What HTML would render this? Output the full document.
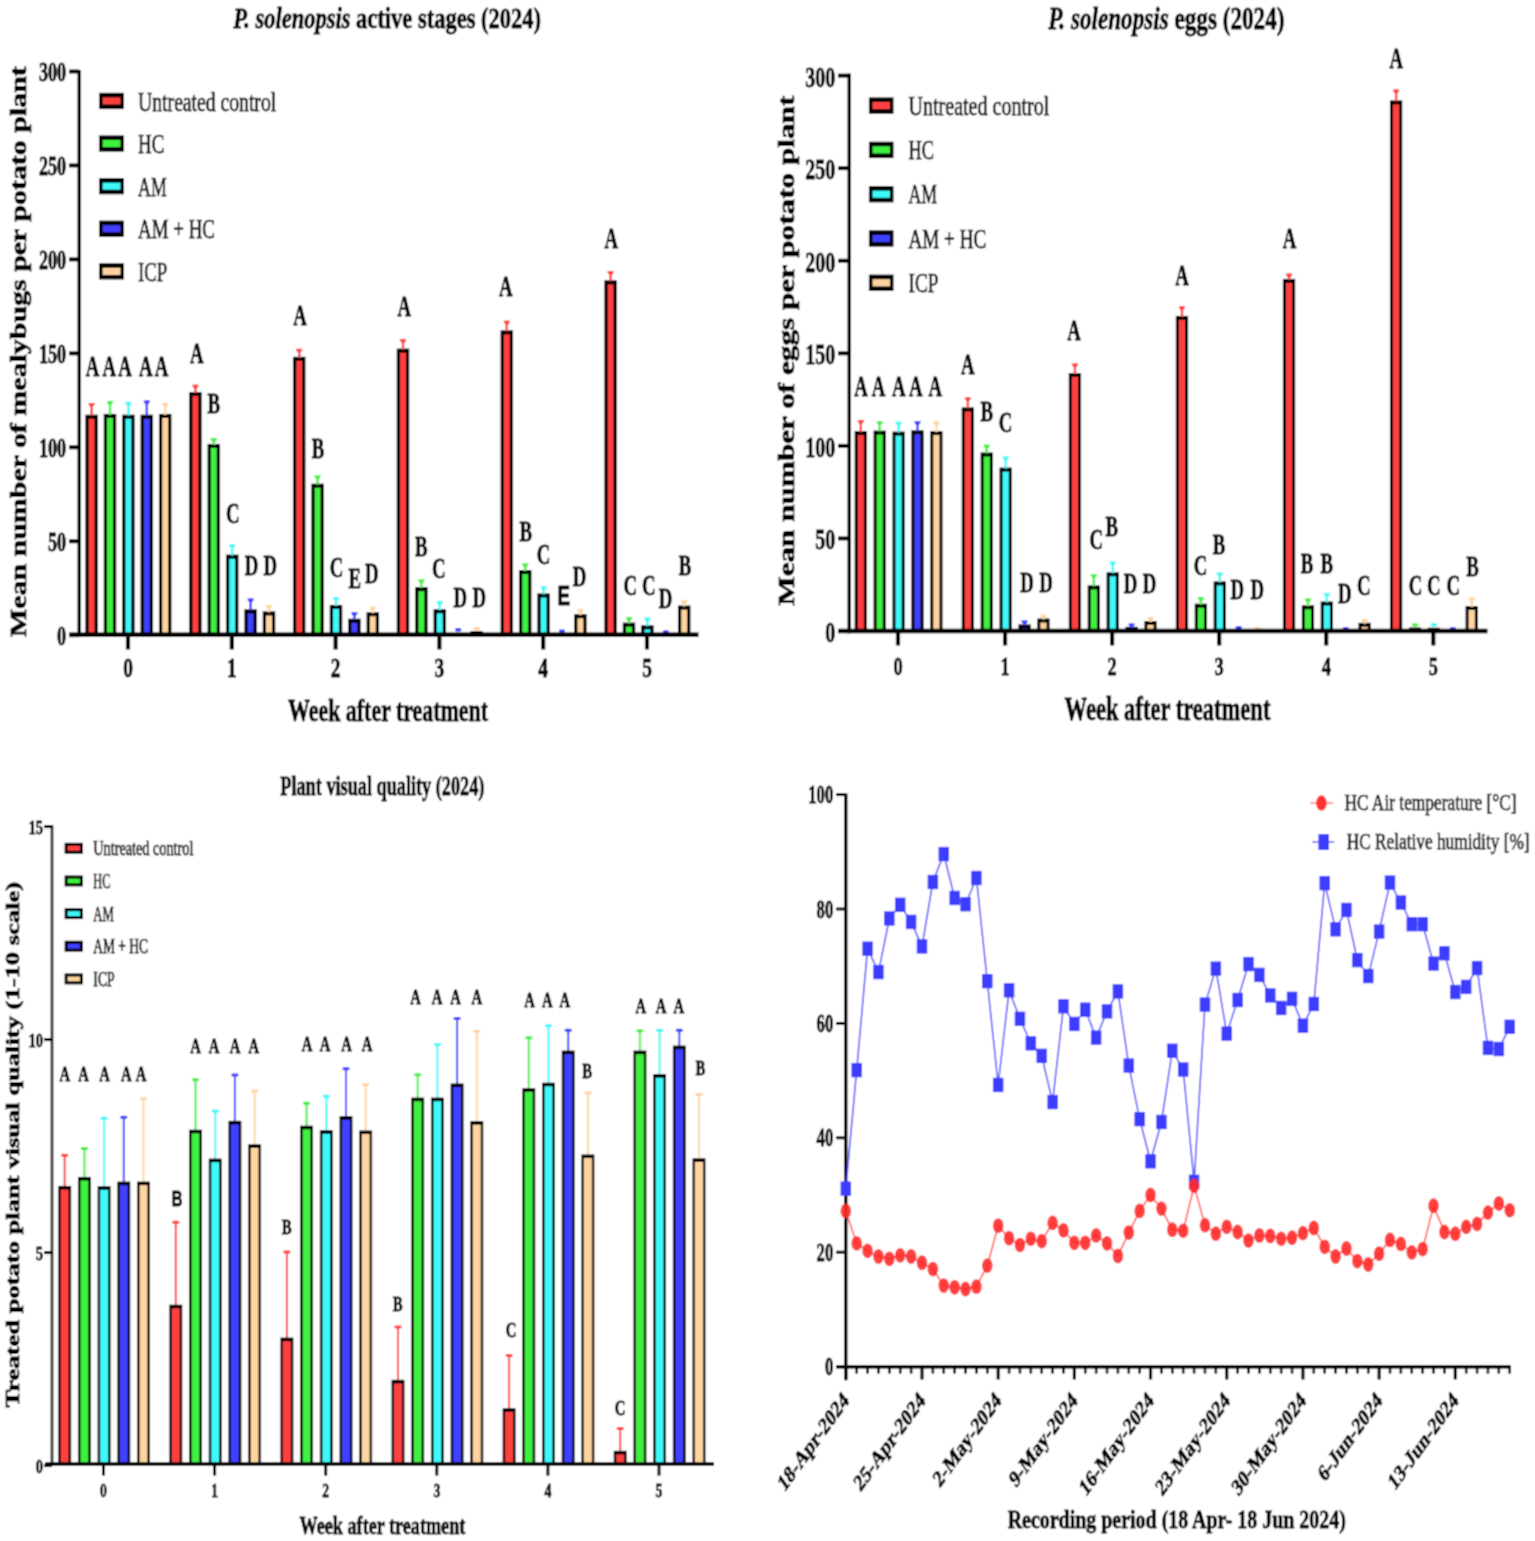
<!DOCTYPE html>
<html><head><meta charset="utf-8"><title>Figure</title>
<style>html,body{margin:0;padding:0;background:#fff;}svg{display:block;}text[font-weight="bold"]{stroke:#000;stroke-width:0.8px;}text[font-weight="normal"]{stroke:#111;stroke-width:0.75px;}</style></head>
<body><svg width="1535" height="1541" viewBox="0 0 1535 1541">
<defs><filter id="soft" x="0" y="0" width="1" height="1" filterUnits="objectBoundingBox"><feConvolveMatrix order="3" kernelMatrix="1 2 1 2 4 2 1 2 1" divisor="16" edgeMode="duplicate"/></filter></defs>
<g filter="url(#soft)">
<rect width="1535" height="1541" fill="#fff"/>
<rect x="85.35" y="414.7" width="12.5" height="220" fill="#000"/>
<rect x="88.65" y="418.8" width="5.9" height="215.9" fill="#FF4040"/>
<rect x="90.4" y="403" width="2.4" height="12.7" fill="#FF4040"/>
<path d="M88.3 403L94.9 403Q94.9 405.09 92.8 406.8L90.4 406.8Q88.3 405.09 88.3 403Z" fill="#FF4040"/>
<rect x="103.75" y="413.9" width="12.5" height="220.8" fill="#000"/>
<rect x="107.05" y="418" width="5.9" height="216.7" fill="#40F040"/>
<rect x="108.8" y="400.9" width="2.4" height="14" fill="#40F040"/>
<path d="M106.7 400.9L113.3 400.9Q113.3 402.99 111.2 404.7L108.8 404.7Q106.7 402.99 106.7 400.9Z" fill="#40F040"/>
<rect x="122.15" y="414.7" width="12.5" height="220" fill="#000"/>
<rect x="125.45" y="418.8" width="5.9" height="215.9" fill="#40F8F8"/>
<rect x="127.2" y="401.7" width="2.4" height="14" fill="#40F8F8"/>
<path d="M125.1 401.7L131.7 401.7Q131.7 403.79 129.6 405.5L127.2 405.5Q125.1 403.79 125.1 401.7Z" fill="#40F8F8"/>
<rect x="140.55" y="414.7" width="12.5" height="220" fill="#000"/>
<rect x="143.85" y="418.8" width="5.9" height="215.9" fill="#4040FF"/>
<rect x="145.6" y="400.4" width="2.4" height="15.3" fill="#4040FF"/>
<path d="M143.5 400.4L150.1 400.4Q150.1 402.49 148 404.2L145.6 404.2Q143.5 402.49 143.5 400.4Z" fill="#4040FF"/>
<rect x="158.95" y="413.9" width="12.5" height="220.8" fill="#000"/>
<rect x="162.25" y="418" width="5.9" height="216.7" fill="#FFD4A0"/>
<rect x="164" y="403" width="2.4" height="11.9" fill="#FFD4A0"/>
<path d="M161.9 403L168.5 403Q168.5 405.09 166.4 406.8L164 406.8Q161.9 405.09 161.9 403Z" fill="#FFD4A0"/>
<rect x="189.15" y="392" width="12.5" height="242.7" fill="#000"/>
<rect x="192.45" y="396.1" width="5.9" height="238.6" fill="#FF4040"/>
<rect x="194.2" y="384.7" width="2.4" height="8.3" fill="#FF4040"/>
<path d="M192.1 384.7L198.7 384.7Q198.7 386.79 196.6 388.5L194.2 388.5Q192.1 386.79 192.1 384.7Z" fill="#FF4040"/>
<rect x="207.55" y="443.9" width="12.5" height="190.8" fill="#000"/>
<rect x="210.85" y="448" width="5.9" height="186.7" fill="#40F040"/>
<rect x="212.6" y="438.1" width="2.4" height="6.8" fill="#40F040"/>
<path d="M210.5 438.1L217.1 438.1Q217.1 440.19 215 441.9L212.6 441.9Q210.5 440.19 210.5 438.1Z" fill="#40F040"/>
<rect x="225.95" y="554.6" width="12.5" height="80.1" fill="#000"/>
<rect x="229.25" y="558.7" width="5.9" height="76" fill="#40F8F8"/>
<rect x="231" y="544.2" width="2.4" height="11.4" fill="#40F8F8"/>
<path d="M228.9 544.2L235.5 544.2Q235.5 546.29 233.4 548L231 548Q228.9 546.29 228.9 544.2Z" fill="#40F8F8"/>
<rect x="244.35" y="609.3" width="12.5" height="25.4" fill="#000"/>
<rect x="247.65" y="613.4" width="5.9" height="21.3" fill="#4040FF"/>
<rect x="249.4" y="598.4" width="2.4" height="11.9" fill="#4040FF"/>
<path d="M247.3 598.4L253.9 598.4Q253.9 600.49 251.8 602.2L249.4 602.2Q247.3 600.49 247.3 598.4Z" fill="#4040FF"/>
<rect x="262.75" y="611.4" width="12.5" height="23.3" fill="#000"/>
<rect x="266.05" y="615.5" width="5.9" height="19.2" fill="#FFD4A0"/>
<rect x="267.8" y="604.9" width="2.4" height="7.5" fill="#FFD4A0"/>
<path d="M265.7 604.9L272.3 604.9Q272.3 606.99 270.2 608.7L267.8 608.7Q265.7 606.99 265.7 604.9Z" fill="#FFD4A0"/>
<rect x="292.95" y="356.8" width="12.5" height="277.9" fill="#000"/>
<rect x="296.25" y="360.9" width="5.9" height="273.8" fill="#FF4040"/>
<rect x="298" y="348.8" width="2.4" height="9" fill="#FF4040"/>
<path d="M295.9 348.8L302.5 348.8Q302.5 350.89 300.4 352.6L298 352.6Q295.9 350.89 295.9 348.8Z" fill="#FF4040"/>
<rect x="311.35" y="483.7" width="12.5" height="151" fill="#000"/>
<rect x="314.65" y="487.8" width="5.9" height="146.9" fill="#40F040"/>
<rect x="316.4" y="475.4" width="2.4" height="9.3" fill="#40F040"/>
<path d="M314.3 475.4L320.9 475.4Q320.9 477.49 318.8 479.2L316.4 479.2Q314.3 477.49 314.3 475.4Z" fill="#40F040"/>
<rect x="329.75" y="604.9" width="12.5" height="29.8" fill="#000"/>
<rect x="333.05" y="609" width="5.9" height="25.7" fill="#40F8F8"/>
<rect x="334.8" y="597.1" width="2.4" height="8.8" fill="#40F8F8"/>
<path d="M332.7 597.1L339.3 597.1Q339.3 599.19 337.2 600.9L334.8 600.9Q332.7 599.19 332.7 597.1Z" fill="#40F8F8"/>
<rect x="348.15" y="618.7" width="12.5" height="16" fill="#000"/>
<rect x="351.45" y="622.8" width="5.9" height="11.9" fill="#4040FF"/>
<rect x="353.2" y="612.2" width="2.4" height="7.5" fill="#4040FF"/>
<path d="M351.1 612.2L357.7 612.2Q357.7 614.29 355.6 616L353.2 616Q351.1 614.29 351.1 612.2Z" fill="#4040FF"/>
<rect x="366.55" y="612.2" width="12.5" height="22.5" fill="#000"/>
<rect x="369.85" y="616.3" width="5.9" height="18.4" fill="#FFD4A0"/>
<rect x="371.6" y="606.7" width="2.4" height="6.5" fill="#FFD4A0"/>
<path d="M369.5 606.7L376.1 606.7Q376.1 608.79 374 610.5L371.6 610.5Q369.5 608.79 369.5 606.7Z" fill="#FFD4A0"/>
<rect x="396.75" y="348.6" width="12.5" height="286.1" fill="#000"/>
<rect x="400.05" y="352.7" width="5.9" height="282" fill="#FF4040"/>
<rect x="401.8" y="338.9" width="2.4" height="10.7" fill="#FF4040"/>
<path d="M399.7 338.9L406.3 338.9Q406.3 340.99 404.2 342.7L401.8 342.7Q399.7 340.99 399.7 338.9Z" fill="#FF4040"/>
<rect x="415.15" y="587.1" width="12.5" height="47.6" fill="#000"/>
<rect x="418.45" y="591.2" width="5.9" height="43.5" fill="#40F040"/>
<rect x="420.2" y="579.4" width="2.4" height="8.7" fill="#40F040"/>
<path d="M418.1 579.4L424.7 579.4Q424.7 581.49 422.6 583.2L420.2 583.2Q418.1 581.49 418.1 579.4Z" fill="#40F040"/>
<rect x="433.55" y="609.2" width="12.5" height="25.5" fill="#000"/>
<rect x="436.85" y="613.3" width="5.9" height="21.4" fill="#40F8F8"/>
<rect x="438.6" y="600.9" width="2.4" height="9.3" fill="#40F8F8"/>
<path d="M436.5 600.9L443.1 600.9Q443.1 602.99 441 604.7L438.6 604.7Q436.5 602.99 436.5 600.9Z" fill="#40F8F8"/>
<rect x="455.2" y="628" width="6" height="3.4" rx="1.2" fill="#4040FF"/>
<rect x="470.4" y="631" width="12.4" height="3.7" fill="#000"/>
<rect x="473.6" y="627" width="6" height="3.4" rx="1.2" fill="#FFD4A0"/>
<rect x="500.55" y="330.3" width="12.5" height="304.4" fill="#000"/>
<rect x="503.85" y="334.4" width="5.9" height="300.3" fill="#FF4040"/>
<rect x="505.6" y="320.7" width="2.4" height="10.6" fill="#FF4040"/>
<path d="M503.5 320.7L510.1 320.7Q510.1 322.79 508 324.5L505.6 324.5Q503.5 322.79 503.5 320.7Z" fill="#FF4040"/>
<rect x="518.95" y="570" width="12.5" height="64.7" fill="#000"/>
<rect x="522.25" y="574.1" width="5.9" height="60.6" fill="#40F040"/>
<rect x="524" y="563.4" width="2.4" height="7.6" fill="#40F040"/>
<path d="M521.9 563.4L528.5 563.4Q528.5 565.49 526.4 567.2L524 567.2Q521.9 565.49 521.9 563.4Z" fill="#40F040"/>
<rect x="537.35" y="593.4" width="12.5" height="41.3" fill="#000"/>
<rect x="540.65" y="597.5" width="5.9" height="37.2" fill="#40F8F8"/>
<rect x="542.4" y="586.3" width="2.4" height="8.1" fill="#40F8F8"/>
<path d="M540.3 586.3L546.9 586.3Q546.9 588.39 544.8 590.1L542.4 590.1Q540.3 588.39 540.3 586.3Z" fill="#40F8F8"/>
<rect x="559" y="629.4" width="6" height="3.4" rx="1.2" fill="#4040FF"/>
<rect x="574.15" y="614.2" width="12.5" height="20.5" fill="#000"/>
<rect x="577.45" y="618.3" width="5.9" height="16.4" fill="#FFD4A0"/>
<rect x="579.2" y="609.2" width="2.4" height="6" fill="#FFD4A0"/>
<path d="M577.1 609.2L583.7 609.2Q583.7 611.29 581.6 613L579.2 613Q577.1 611.29 577.1 609.2Z" fill="#FFD4A0"/>
<rect x="604.35" y="280.3" width="12.5" height="354.4" fill="#000"/>
<rect x="607.65" y="284.4" width="5.9" height="350.3" fill="#FF4040"/>
<rect x="609.4" y="270.9" width="2.4" height="10.4" fill="#FF4040"/>
<path d="M607.3 270.9L613.9 270.9Q613.9 272.99 611.8 274.7L609.4 274.7Q607.3 272.99 607.3 270.9Z" fill="#FF4040"/>
<rect x="622.75" y="622.6" width="12.5" height="12.1" fill="#000"/>
<rect x="626.05" y="626.7" width="5.9" height="8" fill="#40F040"/>
<rect x="627.8" y="616.9" width="2.4" height="6.7" fill="#40F040"/>
<path d="M625.7 616.9L632.3 616.9Q632.3 618.99 630.2 620.7L627.8 620.7Q625.7 618.99 625.7 616.9Z" fill="#40F040"/>
<rect x="641.15" y="625.3" width="12.5" height="9.4" fill="#000"/>
<rect x="644.45" y="629.4" width="5.9" height="5.3" fill="#40F8F8"/>
<rect x="646.2" y="617.6" width="2.4" height="8.7" fill="#40F8F8"/>
<path d="M644.1 617.6L650.7 617.6Q650.7 619.69 648.6 621.4L646.2 621.4Q644.1 619.69 644.1 617.6Z" fill="#40F8F8"/>
<rect x="662.8" y="630.2" width="6" height="3.4" rx="1.2" fill="#4040FF"/>
<rect x="677.95" y="605.5" width="12.5" height="29.2" fill="#000"/>
<rect x="681.25" y="609.6" width="5.9" height="25.1" fill="#FFD4A0"/>
<rect x="683" y="600.3" width="2.4" height="6.2" fill="#FFD4A0"/>
<path d="M680.9 600.3L687.5 600.3Q687.5 602.39 685.4 604.1L683 604.1Q680.9 602.39 680.9 600.3Z" fill="#FFD4A0"/>
<rect x="77.5" y="70" width="3.4" height="567" fill="#000"/>
<rect x="69" y="632.4" width="629.5" height="4.6" fill="#000"/>
<rect x="69" y="633.2" width="10.2" height="4" fill="#000"/>
<rect x="69" y="539.25" width="10.2" height="4" fill="#000"/>
<rect x="69" y="445.3" width="10.2" height="4" fill="#000"/>
<rect x="69" y="351.35" width="10.2" height="4" fill="#000"/>
<rect x="69" y="257.4" width="10.2" height="4" fill="#000"/>
<rect x="69" y="163.45" width="10.2" height="4" fill="#000"/>
<rect x="69" y="69.5" width="10.2" height="4" fill="#000"/>
<rect x="125.9" y="634.7" width="4.2" height="14.8" fill="#000"/>
<rect x="229.7" y="634.7" width="4.2" height="14.8" fill="#000"/>
<rect x="333.5" y="634.7" width="4.2" height="14.8" fill="#000"/>
<rect x="437.3" y="634.7" width="4.2" height="14.8" fill="#000"/>
<rect x="541.1" y="634.7" width="4.2" height="14.8" fill="#000"/>
<rect x="644.9" y="634.7" width="4.2" height="14.8" fill="#000"/>
<text x="57.1" y="644.8" font-family="'Liberation Serif','Times New Roman',serif" font-size="27.5" font-weight="bold" font-style="normal" fill="#000" textLength="9.1" lengthAdjust="spacingAndGlyphs">0</text>
<text x="48" y="550.85" font-family="'Liberation Serif','Times New Roman',serif" font-size="27.5" font-weight="bold" font-style="normal" fill="#000" textLength="18.2" lengthAdjust="spacingAndGlyphs">50</text>
<text x="38.9" y="456.9" font-family="'Liberation Serif','Times New Roman',serif" font-size="27.5" font-weight="bold" font-style="normal" fill="#000" textLength="27.3" lengthAdjust="spacingAndGlyphs">100</text>
<text x="38.9" y="362.95" font-family="'Liberation Serif','Times New Roman',serif" font-size="27.5" font-weight="bold" font-style="normal" fill="#000" textLength="27.3" lengthAdjust="spacingAndGlyphs">150</text>
<text x="38.9" y="269" font-family="'Liberation Serif','Times New Roman',serif" font-size="27.5" font-weight="bold" font-style="normal" fill="#000" textLength="27.3" lengthAdjust="spacingAndGlyphs">200</text>
<text x="38.9" y="175.05" font-family="'Liberation Serif','Times New Roman',serif" font-size="27.5" font-weight="bold" font-style="normal" fill="#000" textLength="27.3" lengthAdjust="spacingAndGlyphs">250</text>
<text x="38.9" y="81.1" font-family="'Liberation Serif','Times New Roman',serif" font-size="27.5" font-weight="bold" font-style="normal" fill="#000" textLength="27.3" lengthAdjust="spacingAndGlyphs">300</text>
<text transform="translate(128 677) scale(0.72 1)" text-anchor="middle" font-family="'Liberation Serif','Times New Roman',serif" font-size="27" font-weight="bold" font-style="normal" fill="#000">0</text>
<text transform="translate(231.8 677) scale(0.72 1)" text-anchor="middle" font-family="'Liberation Serif','Times New Roman',serif" font-size="27" font-weight="bold" font-style="normal" fill="#000">1</text>
<text transform="translate(335.6 677) scale(0.72 1)" text-anchor="middle" font-family="'Liberation Serif','Times New Roman',serif" font-size="27" font-weight="bold" font-style="normal" fill="#000">2</text>
<text transform="translate(439.4 677) scale(0.72 1)" text-anchor="middle" font-family="'Liberation Serif','Times New Roman',serif" font-size="27" font-weight="bold" font-style="normal" fill="#000">3</text>
<text transform="translate(543.2 677) scale(0.72 1)" text-anchor="middle" font-family="'Liberation Serif','Times New Roman',serif" font-size="27" font-weight="bold" font-style="normal" fill="#000">4</text>
<text transform="translate(647 677) scale(0.72 1)" text-anchor="middle" font-family="'Liberation Serif','Times New Roman',serif" font-size="27" font-weight="bold" font-style="normal" fill="#000">5</text>
<rect x="99" y="92.8" width="24.9" height="16.3" fill="#000"/>
<rect x="102.6" y="97.4" width="17.9" height="7.1" fill="#FF4040"/>
<text x="138.1" y="110.5" font-family="'Liberation Serif','Times New Roman',serif" font-size="27.5" font-weight="normal" font-style="normal" fill="#000" textLength="138.1" lengthAdjust="spacingAndGlyphs">Untreated control</text>
<rect x="99" y="135.4" width="24.9" height="16.3" fill="#000"/>
<rect x="102.6" y="140" width="17.9" height="7.1" fill="#40F040"/>
<text x="138.1" y="153.1" font-family="'Liberation Serif','Times New Roman',serif" font-size="27.5" font-weight="normal" font-style="normal" fill="#000" textLength="26.1" lengthAdjust="spacingAndGlyphs">HC</text>
<rect x="99" y="178" width="24.9" height="16.3" fill="#000"/>
<rect x="102.6" y="182.6" width="17.9" height="7.1" fill="#40F8F8"/>
<text x="138.1" y="195.7" font-family="'Liberation Serif','Times New Roman',serif" font-size="27.5" font-weight="normal" font-style="normal" fill="#000" textLength="28.7" lengthAdjust="spacingAndGlyphs">AM</text>
<rect x="99" y="220.6" width="24.9" height="16.3" fill="#000"/>
<rect x="102.6" y="225.2" width="17.9" height="7.1" fill="#4040FF"/>
<text x="138.1" y="238.3" font-family="'Liberation Serif','Times New Roman',serif" font-size="27.5" font-weight="normal" font-style="normal" fill="#000" textLength="76.9" lengthAdjust="spacingAndGlyphs">AM + HC</text>
<rect x="99" y="263.2" width="24.9" height="16.3" fill="#000"/>
<rect x="102.6" y="267.8" width="17.9" height="7.1" fill="#FFD4A0"/>
<text x="138.1" y="280.9" font-family="'Liberation Serif','Times New Roman',serif" font-size="27.5" font-weight="normal" font-style="normal" fill="#000" textLength="29.2" lengthAdjust="spacingAndGlyphs">ICP</text>
<text x="233.3" y="27.7" font-family="'Liberation Serif','Times New Roman',serif" font-size="30" font-weight="bold" font-style="normal" fill="#000" textLength="307.7" lengthAdjust="spacingAndGlyphs"><tspan font-style="italic">P. solenopsis</tspan> active stages (2024)</text>
<text x="288" y="721" font-family="'Liberation Serif','Times New Roman',serif" font-size="31" font-weight="bold" font-style="normal" fill="#000" textLength="200.1" lengthAdjust="spacingAndGlyphs">Week after treatment</text>
<text transform="translate(26.2 637.1) rotate(-90) scale(1 0.88)" font-family="'Liberation Serif','Times New Roman',serif" font-size="27" font-weight="bold" textLength="570.9" lengthAdjust="spacingAndGlyphs">Mean number of mealybugs per potato plant</text>
<text transform="translate(92.5 375.6) scale(0.66 1)" text-anchor="middle" font-family="'Liberation Serif','Times New Roman',serif" font-size="28.5" font-weight="bold" font-style="normal" fill="#000">A</text>
<text transform="translate(109.4 375.6) scale(0.66 1)" text-anchor="middle" font-family="'Liberation Serif','Times New Roman',serif" font-size="28.5" font-weight="bold" font-style="normal" fill="#000">A</text>
<text transform="translate(125.1 375.6) scale(0.66 1)" text-anchor="middle" font-family="'Liberation Serif','Times New Roman',serif" font-size="28.5" font-weight="bold" font-style="normal" fill="#000">A</text>
<text transform="translate(145.9 375.6) scale(0.66 1)" text-anchor="middle" font-family="'Liberation Serif','Times New Roman',serif" font-size="28.5" font-weight="bold" font-style="normal" fill="#000">A</text>
<text transform="translate(161.6 375.6) scale(0.66 1)" text-anchor="middle" font-family="'Liberation Serif','Times New Roman',serif" font-size="28.5" font-weight="bold" font-style="normal" fill="#000">A</text>
<text transform="translate(196.7 363.4) scale(0.66 1)" text-anchor="middle" font-family="'Liberation Serif','Times New Roman',serif" font-size="28.5" font-weight="bold" font-style="normal" fill="#000">A</text>
<text transform="translate(213.7 413.4) scale(0.66 1)" text-anchor="middle" font-family="'Liberation Serif','Times New Roman',serif" font-size="28.5" font-weight="bold" font-style="normal" fill="#000">B</text>
<text transform="translate(232.7 522.8) scale(0.66 1)" text-anchor="middle" font-family="'Liberation Serif','Times New Roman',serif" font-size="28.5" font-weight="bold" font-style="normal" fill="#000">C</text>
<text transform="translate(251.5 575) scale(0.66 1)" text-anchor="middle" font-family="'Liberation Serif','Times New Roman',serif" font-size="28.5" font-weight="bold" font-style="normal" fill="#000">D</text>
<text transform="translate(270.2 575) scale(0.66 1)" text-anchor="middle" font-family="'Liberation Serif','Times New Roman',serif" font-size="28.5" font-weight="bold" font-style="normal" fill="#000">D</text>
<text transform="translate(300 325) scale(0.66 1)" text-anchor="middle" font-family="'Liberation Serif','Times New Roman',serif" font-size="28.5" font-weight="bold" font-style="normal" fill="#000">A</text>
<text transform="translate(317.9 457.7) scale(0.66 1)" text-anchor="middle" font-family="'Liberation Serif','Times New Roman',serif" font-size="28.5" font-weight="bold" font-style="normal" fill="#000">B</text>
<text transform="translate(336.5 576.6) scale(0.66 1)" text-anchor="middle" font-family="'Liberation Serif','Times New Roman',serif" font-size="28.5" font-weight="bold" font-style="normal" fill="#000">C</text>
<text transform="translate(354.7 588.3) scale(0.66 1)" text-anchor="middle" font-family="'Liberation Serif','Times New Roman',serif" font-size="28.5" font-weight="bold" font-style="normal" fill="#000">E</text>
<text transform="translate(371.7 583.1) scale(0.66 1)" text-anchor="middle" font-family="'Liberation Serif','Times New Roman',serif" font-size="28.5" font-weight="bold" font-style="normal" fill="#000">D</text>
<text transform="translate(404.2 316) scale(0.66 1)" text-anchor="middle" font-family="'Liberation Serif','Times New Roman',serif" font-size="28.5" font-weight="bold" font-style="normal" fill="#000">A</text>
<text transform="translate(421.2 555.7) scale(0.66 1)" text-anchor="middle" font-family="'Liberation Serif','Times New Roman',serif" font-size="28.5" font-weight="bold" font-style="normal" fill="#000">B</text>
<text transform="translate(438.9 577.9) scale(0.66 1)" text-anchor="middle" font-family="'Liberation Serif','Times New Roman',serif" font-size="28.5" font-weight="bold" font-style="normal" fill="#000">C</text>
<text transform="translate(460.3 606.5) scale(0.66 1)" text-anchor="middle" font-family="'Liberation Serif','Times New Roman',serif" font-size="28.5" font-weight="bold" font-style="normal" fill="#000">D</text>
<text transform="translate(479.3 606.5) scale(0.66 1)" text-anchor="middle" font-family="'Liberation Serif','Times New Roman',serif" font-size="28.5" font-weight="bold" font-style="normal" fill="#000">D</text>
<text transform="translate(505.9 296.4) scale(0.66 1)" text-anchor="middle" font-family="'Liberation Serif','Times New Roman',serif" font-size="28.5" font-weight="bold" font-style="normal" fill="#000">A</text>
<text transform="translate(525.7 541.4) scale(0.66 1)" text-anchor="middle" font-family="'Liberation Serif','Times New Roman',serif" font-size="28.5" font-weight="bold" font-style="normal" fill="#000">B</text>
<text transform="translate(543.6 563.6) scale(0.66 1)" text-anchor="middle" font-family="'Liberation Serif','Times New Roman',serif" font-size="28.5" font-weight="bold" font-style="normal" fill="#000">C</text>
<text transform="translate(579.6 585.7) scale(0.66 1)" text-anchor="middle" font-family="'Liberation Serif','Times New Roman',serif" font-size="28.5" font-weight="bold" font-style="normal" fill="#000">D</text>
<text transform="translate(611.4 248.2) scale(0.66 1)" text-anchor="middle" font-family="'Liberation Serif','Times New Roman',serif" font-size="28.5" font-weight="bold" font-style="normal" fill="#000">A</text>
<text transform="translate(630.4 594.8) scale(0.66 1)" text-anchor="middle" font-family="'Liberation Serif','Times New Roman',serif" font-size="28.5" font-weight="bold" font-style="normal" fill="#000">C</text>
<text transform="translate(648.7 594.8) scale(0.66 1)" text-anchor="middle" font-family="'Liberation Serif','Times New Roman',serif" font-size="28.5" font-weight="bold" font-style="normal" fill="#000">C</text>
<text transform="translate(665.6 607.8) scale(0.66 1)" text-anchor="middle" font-family="'Liberation Serif','Times New Roman',serif" font-size="28.5" font-weight="bold" font-style="normal" fill="#000">D</text>
<text transform="translate(685.1 575.3) scale(0.66 1)" text-anchor="middle" font-family="'Liberation Serif','Times New Roman',serif" font-size="28.5" font-weight="bold" font-style="normal" fill="#000">B</text>
<text transform="translate(563.7 605) scale(0.7 1)" text-anchor="middle" font-family="'Liberation Sans',Arial,sans-serif" font-size="27" font-weight="bold" font-style="normal" fill="#000">E</text>
<rect x="854.65" y="431.1" width="12.3" height="199.9" fill="#000"/>
<rect x="857.7" y="435.1" width="6.2" height="195.9" fill="#FF4040"/>
<rect x="859.6" y="419.9" width="2.4" height="12.2" fill="#FF4040"/>
<path d="M857.5 419.9L864.1 419.9Q864.1 421.99 862 423.7L859.6 423.7Q857.5 421.99 857.5 419.9Z" fill="#FF4040"/>
<rect x="873.55" y="430.6" width="12.3" height="200.4" fill="#000"/>
<rect x="876.6" y="434.6" width="6.2" height="196.4" fill="#40F040"/>
<rect x="878.5" y="421.2" width="2.4" height="10.4" fill="#40F040"/>
<path d="M876.4 421.2L883 421.2Q883 423.29 880.9 425L878.5 425Q876.4 423.29 876.4 421.2Z" fill="#40F040"/>
<rect x="892.45" y="431.6" width="12.3" height="199.4" fill="#000"/>
<rect x="895.5" y="435.6" width="6.2" height="195.4" fill="#40F8F8"/>
<rect x="897.4" y="421.7" width="2.4" height="10.9" fill="#40F8F8"/>
<path d="M895.3 421.7L901.9 421.7Q901.9 423.79 899.8 425.5L897.4 425.5Q895.3 423.79 895.3 421.7Z" fill="#40F8F8"/>
<rect x="911.35" y="430.3" width="12.3" height="200.7" fill="#000"/>
<rect x="914.4" y="434.3" width="6.2" height="196.7" fill="#4040FF"/>
<rect x="916.3" y="421.2" width="2.4" height="10.1" fill="#4040FF"/>
<path d="M914.2 421.2L920.8 421.2Q920.8 423.29 918.7 425L916.3 425Q914.2 423.29 914.2 421.2Z" fill="#4040FF"/>
<rect x="930.25" y="431.1" width="12.3" height="199.9" fill="#000"/>
<rect x="933.3" y="435.1" width="6.2" height="195.9" fill="#FFD4A0"/>
<rect x="935.2" y="421.2" width="2.4" height="10.9" fill="#FFD4A0"/>
<path d="M933.1 421.2L939.7 421.2Q939.7 423.29 937.6 425L935.2 425Q933.1 423.29 933.1 421.2Z" fill="#FFD4A0"/>
<rect x="961.71" y="407.4" width="12.3" height="223.6" fill="#000"/>
<rect x="964.76" y="411.4" width="6.2" height="219.6" fill="#FF4040"/>
<rect x="966.66" y="397.2" width="2.4" height="11.2" fill="#FF4040"/>
<path d="M964.56 397.2L971.16 397.2Q971.16 399.29 969.06 401L966.66 401Q964.56 399.29 964.56 397.2Z" fill="#FF4040"/>
<rect x="980.61" y="452.5" width="12.3" height="178.5" fill="#000"/>
<rect x="983.66" y="456.5" width="6.2" height="174.5" fill="#40F040"/>
<rect x="985.56" y="444.7" width="2.4" height="8.8" fill="#40F040"/>
<path d="M983.46 444.7L990.06 444.7Q990.06 446.79 987.96 448.5L985.56 448.5Q983.46 446.79 983.46 444.7Z" fill="#40F040"/>
<rect x="999.51" y="467.6" width="12.3" height="163.4" fill="#000"/>
<rect x="1002.56" y="471.6" width="6.2" height="159.4" fill="#40F8F8"/>
<rect x="1004.46" y="456.4" width="2.4" height="12.2" fill="#40F8F8"/>
<path d="M1002.36 456.4L1008.96 456.4Q1008.96 458.49 1006.86 460.2L1004.46 460.2Q1002.36 458.49 1002.36 456.4Z" fill="#40F8F8"/>
<rect x="1018.41" y="624.4" width="12.3" height="6.6" fill="#000"/>
<rect x="1021.46" y="628.4" width="6.2" height="2.6" fill="#4040FF"/>
<rect x="1023.36" y="620.5" width="2.4" height="4.9" fill="#4040FF"/>
<path d="M1021.26 620.5L1027.86 620.5Q1027.86 622.59 1025.76 624.3L1023.36 624.3Q1021.26 622.59 1021.26 620.5Z" fill="#4040FF"/>
<rect x="1037.31" y="618.5" width="12.3" height="12.5" fill="#000"/>
<rect x="1040.36" y="622.5" width="6.2" height="8.5" fill="#FFD4A0"/>
<rect x="1042.26" y="614.8" width="2.4" height="4.7" fill="#FFD4A0"/>
<path d="M1040.16 614.8L1046.76 614.8Q1046.76 616.89 1044.66 618.6L1042.26 618.6Q1040.16 616.89 1040.16 614.8Z" fill="#FFD4A0"/>
<rect x="1068.77" y="373" width="12.3" height="258" fill="#000"/>
<rect x="1071.82" y="377" width="6.2" height="254" fill="#FF4040"/>
<rect x="1073.72" y="363.4" width="2.4" height="10.6" fill="#FF4040"/>
<path d="M1071.62 363.4L1078.22 363.4Q1078.22 365.49 1076.12 367.2L1073.72 367.2Q1071.62 365.49 1071.62 363.4Z" fill="#FF4040"/>
<rect x="1087.67" y="585.4" width="12.3" height="45.6" fill="#000"/>
<rect x="1090.72" y="589.4" width="6.2" height="41.6" fill="#40F040"/>
<rect x="1092.62" y="574.2" width="2.4" height="12.2" fill="#40F040"/>
<path d="M1090.52 574.2L1097.12 574.2Q1097.12 576.29 1095.02 578L1092.62 578Q1090.52 576.29 1090.52 574.2Z" fill="#40F040"/>
<rect x="1106.57" y="572.3" width="12.3" height="58.7" fill="#000"/>
<rect x="1109.62" y="576.3" width="6.2" height="54.7" fill="#40F8F8"/>
<rect x="1111.52" y="561.4" width="2.4" height="11.9" fill="#40F8F8"/>
<path d="M1109.42 561.4L1116.02 561.4Q1116.02 563.49 1113.92 565.2L1111.52 565.2Q1109.42 563.49 1109.42 561.4Z" fill="#40F8F8"/>
<rect x="1125.47" y="626.8" width="12.3" height="4.2" fill="#000"/>
<rect x="1128.52" y="630.8" width="6.2" height="0.2" fill="#4040FF"/>
<rect x="1130.42" y="623.4" width="2.4" height="4.4" fill="#4040FF"/>
<path d="M1128.32 623.4L1134.92 623.4Q1134.92 625.49 1132.82 627.2L1130.42 627.2Q1128.32 625.49 1128.32 623.4Z" fill="#4040FF"/>
<rect x="1144.37" y="621" width="12.3" height="10" fill="#000"/>
<rect x="1147.42" y="625" width="6.2" height="6" fill="#FFD4A0"/>
<rect x="1149.32" y="616.9" width="2.4" height="5.1" fill="#FFD4A0"/>
<path d="M1147.22 616.9L1153.82 616.9Q1153.82 618.99 1151.72 620.7L1149.32 620.7Q1147.22 618.99 1147.22 616.9Z" fill="#FFD4A0"/>
<rect x="1175.83" y="315.9" width="12.3" height="315.1" fill="#000"/>
<rect x="1178.88" y="319.9" width="6.2" height="311.1" fill="#FF4040"/>
<rect x="1180.78" y="306.2" width="2.4" height="10.7" fill="#FF4040"/>
<path d="M1178.68 306.2L1185.28 306.2Q1185.28 308.29 1183.18 310L1180.78 310Q1178.68 308.29 1178.68 306.2Z" fill="#FF4040"/>
<rect x="1194.73" y="603.7" width="12.3" height="27.3" fill="#000"/>
<rect x="1197.78" y="607.7" width="6.2" height="23.3" fill="#40F040"/>
<rect x="1199.68" y="596.9" width="2.4" height="7.8" fill="#40F040"/>
<path d="M1197.58 596.9L1204.18 596.9Q1204.18 598.99 1202.08 600.7L1199.68 600.7Q1197.58 598.99 1197.58 596.9Z" fill="#40F040"/>
<rect x="1213.63" y="581.4" width="12.3" height="49.6" fill="#000"/>
<rect x="1216.68" y="585.4" width="6.2" height="45.6" fill="#40F8F8"/>
<rect x="1218.58" y="572.5" width="2.4" height="9.9" fill="#40F8F8"/>
<path d="M1216.48 572.5L1223.08 572.5Q1223.08 574.59 1220.98 576.3L1218.58 576.3Q1216.48 574.59 1216.48 572.5Z" fill="#40F8F8"/>
<rect x="1235.68" y="626" width="6" height="3.4" rx="1.2" fill="#4040FF"/>
<rect x="1254.58" y="627" width="6" height="3.4" rx="1.2" fill="#FFD4A0"/>
<rect x="1282.89" y="278.9" width="12.3" height="352.1" fill="#000"/>
<rect x="1285.94" y="282.9" width="6.2" height="348.1" fill="#FF4040"/>
<rect x="1287.84" y="273.6" width="2.4" height="6.3" fill="#FF4040"/>
<path d="M1285.74 273.6L1292.34 273.6Q1292.34 275.69 1290.24 277.4L1287.84 277.4Q1285.74 275.69 1285.74 273.6Z" fill="#FF4040"/>
<rect x="1301.79" y="605.3" width="12.3" height="25.7" fill="#000"/>
<rect x="1304.84" y="609.3" width="6.2" height="21.7" fill="#40F040"/>
<rect x="1306.74" y="598.5" width="2.4" height="7.8" fill="#40F040"/>
<path d="M1304.64 598.5L1311.24 598.5Q1311.24 600.59 1309.14 602.3L1306.74 602.3Q1304.64 600.59 1304.64 598.5Z" fill="#40F040"/>
<rect x="1320.69" y="601.5" width="12.3" height="29.5" fill="#000"/>
<rect x="1323.74" y="605.5" width="6.2" height="25.5" fill="#40F8F8"/>
<rect x="1325.64" y="593" width="2.4" height="9.5" fill="#40F8F8"/>
<path d="M1323.54 593L1330.14 593Q1330.14 595.09 1328.04 596.8L1325.64 596.8Q1323.54 595.09 1323.54 593Z" fill="#40F8F8"/>
<rect x="1342.74" y="627" width="6" height="3.4" rx="1.2" fill="#4040FF"/>
<rect x="1358.49" y="622.8" width="12.3" height="8.2" fill="#000"/>
<rect x="1361.54" y="626.8" width="6.2" height="4.2" fill="#FFD4A0"/>
<rect x="1363.44" y="618.9" width="2.4" height="4.9" fill="#FFD4A0"/>
<path d="M1361.34 618.9L1367.94 618.9Q1367.94 620.99 1365.84 622.7L1363.44 622.7Q1361.34 620.99 1361.34 618.9Z" fill="#FFD4A0"/>
<rect x="1389.95" y="100.4" width="12.3" height="530.6" fill="#000"/>
<rect x="1393" y="104.4" width="6.2" height="526.6" fill="#FF4040"/>
<rect x="1394.9" y="89.4" width="2.4" height="12" fill="#FF4040"/>
<path d="M1392.8 89.4L1399.4 89.4Q1399.4 91.49 1397.3 93.2L1394.9 93.2Q1392.8 91.49 1392.8 89.4Z" fill="#FF4040"/>
<rect x="1408.9" y="627.5" width="12.2" height="3.5" fill="#000"/>
<rect x="1412" y="623.2" width="6" height="3.4" rx="1.2" fill="#40F040"/>
<rect x="1427.8" y="627.7" width="12.2" height="3.3" fill="#000"/>
<rect x="1430.9" y="623" width="6" height="3.4" rx="1.2" fill="#40F8F8"/>
<rect x="1449.8" y="627.1" width="6" height="3.4" rx="1.2" fill="#4040FF"/>
<rect x="1465.55" y="606" width="12.3" height="25" fill="#000"/>
<rect x="1468.6" y="610" width="6.2" height="21" fill="#FFD4A0"/>
<rect x="1470.5" y="597.6" width="2.4" height="9.4" fill="#FFD4A0"/>
<path d="M1468.4 597.6L1475 597.6Q1475 599.69 1472.9 601.4L1470.5 601.4Q1468.4 599.69 1468.4 597.6Z" fill="#FFD4A0"/>
<rect x="847.5" y="73.5" width="3.4" height="559.8" fill="#000"/>
<rect x="838" y="628.7" width="649.5" height="4.6" fill="#000"/>
<rect x="838" y="629" width="11.2" height="4" fill="#000"/>
<rect x="838" y="536.43" width="11.2" height="4" fill="#000"/>
<rect x="838" y="443.87" width="11.2" height="4" fill="#000"/>
<rect x="838" y="351.31" width="11.2" height="4" fill="#000"/>
<rect x="838" y="258.74" width="11.2" height="4" fill="#000"/>
<rect x="838" y="166.18" width="11.2" height="4" fill="#000"/>
<rect x="838" y="73.61" width="11.2" height="4" fill="#000"/>
<rect x="895.9" y="631" width="4.2" height="14.5" fill="#000"/>
<rect x="1002.96" y="631" width="4.2" height="14.5" fill="#000"/>
<rect x="1110.02" y="631" width="4.2" height="14.5" fill="#000"/>
<rect x="1217.08" y="631" width="4.2" height="14.5" fill="#000"/>
<rect x="1324.14" y="631" width="4.2" height="14.5" fill="#000"/>
<rect x="1431.2" y="631" width="4.2" height="14.5" fill="#000"/>
<text x="825.3" y="642" font-family="'Liberation Serif','Times New Roman',serif" font-size="29" font-weight="bold" font-style="normal" fill="#000" textLength="10" lengthAdjust="spacingAndGlyphs">0</text>
<text x="815.3" y="549.43" font-family="'Liberation Serif','Times New Roman',serif" font-size="29" font-weight="bold" font-style="normal" fill="#000" textLength="20" lengthAdjust="spacingAndGlyphs">50</text>
<text x="805.3" y="456.87" font-family="'Liberation Serif','Times New Roman',serif" font-size="29" font-weight="bold" font-style="normal" fill="#000" textLength="30" lengthAdjust="spacingAndGlyphs">100</text>
<text x="805.3" y="364.31" font-family="'Liberation Serif','Times New Roman',serif" font-size="29" font-weight="bold" font-style="normal" fill="#000" textLength="30" lengthAdjust="spacingAndGlyphs">150</text>
<text x="805.3" y="271.74" font-family="'Liberation Serif','Times New Roman',serif" font-size="29" font-weight="bold" font-style="normal" fill="#000" textLength="30" lengthAdjust="spacingAndGlyphs">200</text>
<text x="805.3" y="179.18" font-family="'Liberation Serif','Times New Roman',serif" font-size="29" font-weight="bold" font-style="normal" fill="#000" textLength="30" lengthAdjust="spacingAndGlyphs">250</text>
<text x="805.3" y="86.61" font-family="'Liberation Serif','Times New Roman',serif" font-size="29" font-weight="bold" font-style="normal" fill="#000" textLength="30" lengthAdjust="spacingAndGlyphs">300</text>
<text transform="translate(898 675.3) scale(0.72 1)" text-anchor="middle" font-family="'Liberation Serif','Times New Roman',serif" font-size="25.5" font-weight="bold" font-style="normal" fill="#000">0</text>
<text transform="translate(1005.06 675.3) scale(0.72 1)" text-anchor="middle" font-family="'Liberation Serif','Times New Roman',serif" font-size="25.5" font-weight="bold" font-style="normal" fill="#000">1</text>
<text transform="translate(1112.12 675.3) scale(0.72 1)" text-anchor="middle" font-family="'Liberation Serif','Times New Roman',serif" font-size="25.5" font-weight="bold" font-style="normal" fill="#000">2</text>
<text transform="translate(1219.18 675.3) scale(0.72 1)" text-anchor="middle" font-family="'Liberation Serif','Times New Roman',serif" font-size="25.5" font-weight="bold" font-style="normal" fill="#000">3</text>
<text transform="translate(1326.24 675.3) scale(0.72 1)" text-anchor="middle" font-family="'Liberation Serif','Times New Roman',serif" font-size="25.5" font-weight="bold" font-style="normal" fill="#000">4</text>
<text transform="translate(1433.3 675.3) scale(0.72 1)" text-anchor="middle" font-family="'Liberation Serif','Times New Roman',serif" font-size="25.5" font-weight="bold" font-style="normal" fill="#000">5</text>
<rect x="868.9" y="97.4" width="24.6" height="16.4" fill="#000"/>
<rect x="872.5" y="102" width="17.4" height="7.2" fill="#FF4040"/>
<text x="908.5" y="114.8" font-family="'Liberation Serif','Times New Roman',serif" font-size="27.5" font-weight="normal" font-style="normal" fill="#000" textLength="140.8" lengthAdjust="spacingAndGlyphs">Untreated control</text>
<rect x="868.9" y="141.7" width="24.6" height="16.4" fill="#000"/>
<rect x="872.5" y="146.3" width="17.4" height="7.2" fill="#40F040"/>
<text x="908.5" y="159.1" font-family="'Liberation Serif','Times New Roman',serif" font-size="27.5" font-weight="normal" font-style="normal" fill="#000" textLength="25.5" lengthAdjust="spacingAndGlyphs">HC</text>
<rect x="868.9" y="186" width="24.6" height="16.4" fill="#000"/>
<rect x="872.5" y="190.6" width="17.4" height="7.2" fill="#40F8F8"/>
<text x="908.5" y="203.4" font-family="'Liberation Serif','Times New Roman',serif" font-size="27.5" font-weight="normal" font-style="normal" fill="#000" textLength="28.7" lengthAdjust="spacingAndGlyphs">AM</text>
<rect x="868.9" y="230.3" width="24.6" height="16.4" fill="#000"/>
<rect x="872.5" y="234.9" width="17.4" height="7.2" fill="#4040FF"/>
<text x="908.5" y="247.7" font-family="'Liberation Serif','Times New Roman',serif" font-size="27.5" font-weight="normal" font-style="normal" fill="#000" textLength="77.7" lengthAdjust="spacingAndGlyphs">AM + HC</text>
<rect x="868.9" y="274.6" width="24.6" height="16.4" fill="#000"/>
<rect x="872.5" y="279.2" width="17.4" height="7.2" fill="#FFD4A0"/>
<text x="908.5" y="292" font-family="'Liberation Serif','Times New Roman',serif" font-size="27.5" font-weight="normal" font-style="normal" fill="#000" textLength="30" lengthAdjust="spacingAndGlyphs">ICP</text>
<text x="1048.2" y="29.2" font-family="'Liberation Serif','Times New Roman',serif" font-size="31.5" font-weight="bold" font-style="normal" fill="#000" textLength="236.3" lengthAdjust="spacingAndGlyphs"><tspan font-style="italic">P. solenopsis</tspan> eggs (2024)</text>
<text x="1064.6" y="720.3" font-family="'Liberation Serif','Times New Roman',serif" font-size="33" font-weight="bold" font-style="normal" fill="#000" textLength="205.8" lengthAdjust="spacingAndGlyphs">Week after treatment</text>
<text transform="translate(793.6 605.8) rotate(-90) scale(1 0.85)" font-family="'Liberation Serif','Times New Roman',serif" font-size="27" font-weight="bold" textLength="510.1" lengthAdjust="spacingAndGlyphs">Mean number of eggs per potato plant</text>
<text transform="translate(861.1 395.7) scale(0.66 1)" text-anchor="middle" font-family="'Liberation Serif','Times New Roman',serif" font-size="28.5" font-weight="bold" font-style="normal" fill="#000">A</text>
<text transform="translate(878.6 395.7) scale(0.66 1)" text-anchor="middle" font-family="'Liberation Serif','Times New Roman',serif" font-size="28.5" font-weight="bold" font-style="normal" fill="#000">A</text>
<text transform="translate(898.9 395.7) scale(0.66 1)" text-anchor="middle" font-family="'Liberation Serif','Times New Roman',serif" font-size="28.5" font-weight="bold" font-style="normal" fill="#000">A</text>
<text transform="translate(915.8 395.7) scale(0.66 1)" text-anchor="middle" font-family="'Liberation Serif','Times New Roman',serif" font-size="28.5" font-weight="bold" font-style="normal" fill="#000">A</text>
<text transform="translate(935.4 395.7) scale(0.66 1)" text-anchor="middle" font-family="'Liberation Serif','Times New Roman',serif" font-size="28.5" font-weight="bold" font-style="normal" fill="#000">A</text>
<text transform="translate(967.7 373.8) scale(0.66 1)" text-anchor="middle" font-family="'Liberation Serif','Times New Roman',serif" font-size="28.5" font-weight="bold" font-style="normal" fill="#000">A</text>
<text transform="translate(986.7 421.2) scale(0.66 1)" text-anchor="middle" font-family="'Liberation Serif','Times New Roman',serif" font-size="28.5" font-weight="bold" font-style="normal" fill="#000">B</text>
<text transform="translate(1005.5 432.2) scale(0.66 1)" text-anchor="middle" font-family="'Liberation Serif','Times New Roman',serif" font-size="28.5" font-weight="bold" font-style="normal" fill="#000">C</text>
<text transform="translate(1027.1 591.9) scale(0.66 1)" text-anchor="middle" font-family="'Liberation Serif','Times New Roman',serif" font-size="28.5" font-weight="bold" font-style="normal" fill="#000">D</text>
<text transform="translate(1046.1 591.9) scale(0.66 1)" text-anchor="middle" font-family="'Liberation Serif','Times New Roman',serif" font-size="28.5" font-weight="bold" font-style="normal" fill="#000">D</text>
<text transform="translate(1074 340) scale(0.66 1)" text-anchor="middle" font-family="'Liberation Serif','Times New Roman',serif" font-size="28.5" font-weight="bold" font-style="normal" fill="#000">A</text>
<text transform="translate(1096.2 548.9) scale(0.66 1)" text-anchor="middle" font-family="'Liberation Serif','Times New Roman',serif" font-size="28.5" font-weight="bold" font-style="normal" fill="#000">C</text>
<text transform="translate(1111.8 535.9) scale(0.66 1)" text-anchor="middle" font-family="'Liberation Serif','Times New Roman',serif" font-size="28.5" font-weight="bold" font-style="normal" fill="#000">B</text>
<text transform="translate(1130.6 593.2) scale(0.66 1)" text-anchor="middle" font-family="'Liberation Serif','Times New Roman',serif" font-size="28.5" font-weight="bold" font-style="normal" fill="#000">D</text>
<text transform="translate(1149.6 593.2) scale(0.66 1)" text-anchor="middle" font-family="'Liberation Serif','Times New Roman',serif" font-size="28.5" font-weight="bold" font-style="normal" fill="#000">D</text>
<text transform="translate(1182.1 285.4) scale(0.66 1)" text-anchor="middle" font-family="'Liberation Serif','Times New Roman',serif" font-size="28.5" font-weight="bold" font-style="normal" fill="#000">A</text>
<text transform="translate(1200.6 575.2) scale(0.66 1)" text-anchor="middle" font-family="'Liberation Serif','Times New Roman',serif" font-size="28.5" font-weight="bold" font-style="normal" fill="#000">C</text>
<text transform="translate(1218.9 553.6) scale(0.66 1)" text-anchor="middle" font-family="'Liberation Serif','Times New Roman',serif" font-size="28.5" font-weight="bold" font-style="normal" fill="#000">B</text>
<text transform="translate(1237.3 599.2) scale(0.66 1)" text-anchor="middle" font-family="'Liberation Serif','Times New Roman',serif" font-size="28.5" font-weight="bold" font-style="normal" fill="#000">D</text>
<text transform="translate(1257.2 599.2) scale(0.66 1)" text-anchor="middle" font-family="'Liberation Serif','Times New Roman',serif" font-size="28.5" font-weight="bold" font-style="normal" fill="#000">D</text>
<text transform="translate(1289.5 247.6) scale(0.66 1)" text-anchor="middle" font-family="'Liberation Serif','Times New Roman',serif" font-size="28.5" font-weight="bold" font-style="normal" fill="#000">A</text>
<text transform="translate(1306.9 573) scale(0.66 1)" text-anchor="middle" font-family="'Liberation Serif','Times New Roman',serif" font-size="28.5" font-weight="bold" font-style="normal" fill="#000">B</text>
<text transform="translate(1326.7 573) scale(0.66 1)" text-anchor="middle" font-family="'Liberation Serif','Times New Roman',serif" font-size="28.5" font-weight="bold" font-style="normal" fill="#000">B</text>
<text transform="translate(1344.9 602.6) scale(0.66 1)" text-anchor="middle" font-family="'Liberation Serif','Times New Roman',serif" font-size="28.5" font-weight="bold" font-style="normal" fill="#000">D</text>
<text transform="translate(1363.9 594.6) scale(0.66 1)" text-anchor="middle" font-family="'Liberation Serif','Times New Roman',serif" font-size="28.5" font-weight="bold" font-style="normal" fill="#000">C</text>
<text transform="translate(1396.3 67.8) scale(0.66 1)" text-anchor="middle" font-family="'Liberation Serif','Times New Roman',serif" font-size="28.5" font-weight="bold" font-style="normal" fill="#000">A</text>
<text transform="translate(1415.6 594.6) scale(0.66 1)" text-anchor="middle" font-family="'Liberation Serif','Times New Roman',serif" font-size="28.5" font-weight="bold" font-style="normal" fill="#000">C</text>
<text transform="translate(1433.9 594.6) scale(0.66 1)" text-anchor="middle" font-family="'Liberation Serif','Times New Roman',serif" font-size="28.5" font-weight="bold" font-style="normal" fill="#000">C</text>
<text transform="translate(1453.2 594.6) scale(0.66 1)" text-anchor="middle" font-family="'Liberation Serif','Times New Roman',serif" font-size="28.5" font-weight="bold" font-style="normal" fill="#000">C</text>
<text transform="translate(1472.6 576.4) scale(0.66 1)" text-anchor="middle" font-family="'Liberation Serif','Times New Roman',serif" font-size="28.5" font-weight="bold" font-style="normal" fill="#000">B</text>
<rect x="63.7" y="1155.2" width="2" height="31.7" fill="#FF4040"/>
<rect x="61.2" y="1153.7" width="7" height="3" rx="1.2" fill="#FF4040"/>
<rect x="58.25" y="1185.9" width="12.9" height="278.1" fill="#000"/>
<rect x="60.75" y="1189.5" width="7.9" height="274.5" fill="#FF4040"/>
<rect x="83.4" y="1148.6" width="2" height="29.3" fill="#40F040"/>
<rect x="80.9" y="1147.1" width="7" height="3" rx="1.2" fill="#40F040"/>
<rect x="77.95" y="1176.9" width="12.9" height="287.1" fill="#000"/>
<rect x="80.45" y="1180.5" width="7.9" height="283.5" fill="#40F040"/>
<rect x="103.1" y="1118.3" width="2" height="68.9" fill="#40F8F8"/>
<rect x="100.6" y="1116.8" width="7" height="3" rx="1.2" fill="#40F8F8"/>
<rect x="97.65" y="1186.2" width="12.9" height="277.8" fill="#000"/>
<rect x="100.15" y="1189.8" width="7.9" height="274.2" fill="#40F8F8"/>
<rect x="122.8" y="1117.3" width="2" height="65.3" fill="#4040FF"/>
<rect x="120.3" y="1115.8" width="7" height="3" rx="1.2" fill="#4040FF"/>
<rect x="117.35" y="1181.6" width="12.9" height="282.4" fill="#000"/>
<rect x="119.85" y="1185.2" width="7.9" height="278.8" fill="#4040FF"/>
<rect x="142.5" y="1098.7" width="2" height="83.9" fill="#FFD4A0"/>
<rect x="140" y="1097.2" width="7" height="3" rx="1.2" fill="#FFD4A0"/>
<rect x="137.05" y="1181.6" width="12.9" height="282.4" fill="#000"/>
<rect x="139.55" y="1185.2" width="7.9" height="278.8" fill="#FFD4A0"/>
<rect x="174.8" y="1222.3" width="2" height="83.4" fill="#FF4040"/>
<rect x="172.3" y="1220.8" width="7" height="3" rx="1.2" fill="#FF4040"/>
<rect x="169.35" y="1304.7" width="12.9" height="159.3" fill="#000"/>
<rect x="171.85" y="1308.3" width="7.9" height="155.7" fill="#FF4040"/>
<rect x="194.5" y="1079.7" width="2" height="51" fill="#40F040"/>
<rect x="192" y="1078.2" width="7" height="3" rx="1.2" fill="#40F040"/>
<rect x="189.05" y="1129.7" width="12.9" height="334.3" fill="#000"/>
<rect x="191.55" y="1133.3" width="7.9" height="330.7" fill="#40F040"/>
<rect x="214.2" y="1111.1" width="2" height="48.5" fill="#40F8F8"/>
<rect x="211.7" y="1109.6" width="7" height="3" rx="1.2" fill="#40F8F8"/>
<rect x="208.75" y="1158.6" width="12.9" height="305.4" fill="#000"/>
<rect x="211.25" y="1162.2" width="7.9" height="301.8" fill="#40F8F8"/>
<rect x="233.9" y="1075" width="2" height="46.8" fill="#4040FF"/>
<rect x="231.4" y="1073.5" width="7" height="3" rx="1.2" fill="#4040FF"/>
<rect x="228.45" y="1120.8" width="12.9" height="343.2" fill="#000"/>
<rect x="230.95" y="1124.4" width="7.9" height="339.6" fill="#4040FF"/>
<rect x="253.6" y="1091.1" width="2" height="54.2" fill="#FFD4A0"/>
<rect x="251.1" y="1089.6" width="7" height="3" rx="1.2" fill="#FFD4A0"/>
<rect x="248.15" y="1144.3" width="12.9" height="319.7" fill="#000"/>
<rect x="250.65" y="1147.9" width="7.9" height="316.1" fill="#FFD4A0"/>
<rect x="285.9" y="1252" width="2" height="86.6" fill="#FF4040"/>
<rect x="283.4" y="1250.5" width="7" height="3" rx="1.2" fill="#FF4040"/>
<rect x="280.45" y="1337.6" width="12.9" height="126.4" fill="#000"/>
<rect x="282.95" y="1341.2" width="7.9" height="122.8" fill="#FF4040"/>
<rect x="305.6" y="1103.2" width="2" height="23.5" fill="#40F040"/>
<rect x="303.1" y="1101.7" width="7" height="3" rx="1.2" fill="#40F040"/>
<rect x="300.15" y="1125.7" width="12.9" height="338.3" fill="#000"/>
<rect x="302.65" y="1129.3" width="7.9" height="334.7" fill="#40F040"/>
<rect x="325.3" y="1096.3" width="2" height="34.9" fill="#40F8F8"/>
<rect x="322.8" y="1094.8" width="7" height="3" rx="1.2" fill="#40F8F8"/>
<rect x="319.85" y="1130.2" width="12.9" height="333.8" fill="#000"/>
<rect x="322.35" y="1133.8" width="7.9" height="330.2" fill="#40F8F8"/>
<rect x="345" y="1068.8" width="2" height="48.3" fill="#4040FF"/>
<rect x="342.5" y="1067.3" width="7" height="3" rx="1.2" fill="#4040FF"/>
<rect x="339.55" y="1116.1" width="12.9" height="347.9" fill="#000"/>
<rect x="342.05" y="1119.7" width="7.9" height="344.3" fill="#4040FF"/>
<rect x="364.7" y="1084.7" width="2" height="46.8" fill="#FFD4A0"/>
<rect x="362.2" y="1083.2" width="7" height="3" rx="1.2" fill="#FFD4A0"/>
<rect x="359.25" y="1130.5" width="12.9" height="333.5" fill="#000"/>
<rect x="361.75" y="1134.1" width="7.9" height="329.9" fill="#FFD4A0"/>
<rect x="397" y="1327" width="2" height="53.8" fill="#FF4040"/>
<rect x="394.5" y="1325.5" width="7" height="3" rx="1.2" fill="#FF4040"/>
<rect x="391.55" y="1379.8" width="12.9" height="84.2" fill="#000"/>
<rect x="394.05" y="1383.4" width="7.9" height="80.6" fill="#FF4040"/>
<rect x="416.7" y="1074.8" width="2" height="23.8" fill="#40F040"/>
<rect x="414.2" y="1073.3" width="7" height="3" rx="1.2" fill="#40F040"/>
<rect x="411.25" y="1097.6" width="12.9" height="366.4" fill="#000"/>
<rect x="413.75" y="1101.2" width="7.9" height="362.8" fill="#40F040"/>
<rect x="436.4" y="1044.4" width="2" height="54.2" fill="#40F8F8"/>
<rect x="433.9" y="1042.9" width="7" height="3" rx="1.2" fill="#40F8F8"/>
<rect x="430.95" y="1097.6" width="12.9" height="366.4" fill="#000"/>
<rect x="433.45" y="1101.2" width="7.9" height="362.8" fill="#40F8F8"/>
<rect x="456.1" y="1018.4" width="2" height="66.1" fill="#4040FF"/>
<rect x="453.6" y="1016.9" width="7" height="3" rx="1.2" fill="#4040FF"/>
<rect x="450.65" y="1083.5" width="12.9" height="380.5" fill="#000"/>
<rect x="453.15" y="1087.1" width="7.9" height="376.9" fill="#4040FF"/>
<rect x="475.8" y="1031.3" width="2" height="90.8" fill="#FFD4A0"/>
<rect x="473.3" y="1029.8" width="7" height="3" rx="1.2" fill="#FFD4A0"/>
<rect x="470.35" y="1121.1" width="12.9" height="342.9" fill="#000"/>
<rect x="472.85" y="1124.7" width="7.9" height="339.3" fill="#FFD4A0"/>
<rect x="508.1" y="1355.5" width="2" height="53.7" fill="#FF4040"/>
<rect x="505.6" y="1354" width="7" height="3" rx="1.2" fill="#FF4040"/>
<rect x="502.65" y="1408.2" width="12.9" height="55.8" fill="#000"/>
<rect x="505.15" y="1411.8" width="7.9" height="52.2" fill="#FF4040"/>
<rect x="527.8" y="1037.7" width="2" height="51.5" fill="#40F040"/>
<rect x="525.3" y="1036.2" width="7" height="3" rx="1.2" fill="#40F040"/>
<rect x="522.35" y="1088.2" width="12.9" height="375.8" fill="#000"/>
<rect x="524.85" y="1091.8" width="7.9" height="372.2" fill="#40F040"/>
<rect x="547.5" y="1025.8" width="2" height="57.9" fill="#40F8F8"/>
<rect x="545" y="1024.3" width="7" height="3" rx="1.2" fill="#40F8F8"/>
<rect x="542.05" y="1082.7" width="12.9" height="381.3" fill="#000"/>
<rect x="544.55" y="1086.3" width="7.9" height="377.7" fill="#40F8F8"/>
<rect x="567.2" y="1030.3" width="2" height="21.3" fill="#4040FF"/>
<rect x="564.7" y="1028.8" width="7" height="3" rx="1.2" fill="#4040FF"/>
<rect x="561.75" y="1050.6" width="12.9" height="413.4" fill="#000"/>
<rect x="564.25" y="1054.2" width="7.9" height="409.8" fill="#4040FF"/>
<rect x="586.9" y="1093.1" width="2" height="62.4" fill="#FFD4A0"/>
<rect x="584.4" y="1091.6" width="7" height="3" rx="1.2" fill="#FFD4A0"/>
<rect x="581.45" y="1154.5" width="12.9" height="309.5" fill="#000"/>
<rect x="583.95" y="1158.1" width="7.9" height="305.9" fill="#FFD4A0"/>
<rect x="619.2" y="1428.6" width="2" height="23.2" fill="#FF4040"/>
<rect x="616.7" y="1427.1" width="7" height="3" rx="1.2" fill="#FF4040"/>
<rect x="613.75" y="1450.8" width="12.9" height="13.2" fill="#000"/>
<rect x="616.25" y="1454.4" width="7.9" height="9.6" fill="#FF4040"/>
<rect x="638.9" y="1030.8" width="2" height="20.8" fill="#40F040"/>
<rect x="636.4" y="1029.3" width="7" height="3" rx="1.2" fill="#40F040"/>
<rect x="633.45" y="1050.6" width="12.9" height="413.4" fill="#000"/>
<rect x="635.95" y="1054.2" width="7.9" height="409.8" fill="#40F040"/>
<rect x="658.6" y="1030.3" width="2" height="44.8" fill="#40F8F8"/>
<rect x="656.1" y="1028.8" width="7" height="3" rx="1.2" fill="#40F8F8"/>
<rect x="653.15" y="1074.1" width="12.9" height="389.9" fill="#000"/>
<rect x="655.65" y="1077.7" width="7.9" height="386.3" fill="#40F8F8"/>
<rect x="678.3" y="1030.3" width="2" height="16.3" fill="#4040FF"/>
<rect x="675.8" y="1028.8" width="7" height="3" rx="1.2" fill="#4040FF"/>
<rect x="672.85" y="1045.6" width="12.9" height="418.4" fill="#000"/>
<rect x="675.35" y="1049.2" width="7.9" height="414.8" fill="#4040FF"/>
<rect x="698" y="1094.4" width="2" height="64.9" fill="#FFD4A0"/>
<rect x="695.5" y="1092.9" width="7" height="3" rx="1.2" fill="#FFD4A0"/>
<rect x="692.55" y="1158.3" width="12.9" height="305.7" fill="#000"/>
<rect x="695.05" y="1161.9" width="7.9" height="302.1" fill="#FFD4A0"/>
<rect x="50.7" y="825" width="2.6" height="640.8" fill="#000"/>
<rect x="45" y="1462.2" width="669" height="3.6" fill="#000"/>
<rect x="44" y="1464.1" width="8" height="3" fill="#000"/>
<rect x="44" y="1251.1" width="8" height="3" fill="#000"/>
<rect x="44" y="1038.1" width="8" height="3" fill="#000"/>
<rect x="44" y="825.1" width="8" height="3" fill="#000"/>
<rect x="102" y="1464" width="3" height="11.6" fill="#000"/>
<rect x="213.1" y="1464" width="3" height="11.6" fill="#000"/>
<rect x="324.2" y="1464" width="3" height="11.6" fill="#000"/>
<rect x="435.3" y="1464" width="3" height="11.6" fill="#000"/>
<rect x="546.4" y="1464" width="3" height="11.6" fill="#000"/>
<rect x="657.5" y="1464" width="3" height="11.6" fill="#000"/>
<text x="35.8" y="1473" font-family="'Liberation Serif','Times New Roman',serif" font-size="19" font-weight="bold" font-style="normal" fill="#000" textLength="7.2" lengthAdjust="spacingAndGlyphs">0</text>
<text x="35.8" y="1260" font-family="'Liberation Serif','Times New Roman',serif" font-size="19" font-weight="bold" font-style="normal" fill="#000" textLength="7.2" lengthAdjust="spacingAndGlyphs">5</text>
<text x="28.6" y="1047" font-family="'Liberation Serif','Times New Roman',serif" font-size="19" font-weight="bold" font-style="normal" fill="#000" textLength="14.4" lengthAdjust="spacingAndGlyphs">10</text>
<text x="28.6" y="834" font-family="'Liberation Serif','Times New Roman',serif" font-size="19" font-weight="bold" font-style="normal" fill="#000" textLength="14.4" lengthAdjust="spacingAndGlyphs">15</text>
<text transform="translate(103.5 1496.6) scale(0.72 1)" text-anchor="middle" font-family="'Liberation Serif','Times New Roman',serif" font-size="19" font-weight="bold" font-style="normal" fill="#000">0</text>
<text transform="translate(214.6 1496.6) scale(0.72 1)" text-anchor="middle" font-family="'Liberation Serif','Times New Roman',serif" font-size="19" font-weight="bold" font-style="normal" fill="#000">1</text>
<text transform="translate(325.7 1496.6) scale(0.72 1)" text-anchor="middle" font-family="'Liberation Serif','Times New Roman',serif" font-size="19" font-weight="bold" font-style="normal" fill="#000">2</text>
<text transform="translate(436.8 1496.6) scale(0.72 1)" text-anchor="middle" font-family="'Liberation Serif','Times New Roman',serif" font-size="19" font-weight="bold" font-style="normal" fill="#000">3</text>
<text transform="translate(547.9 1496.6) scale(0.72 1)" text-anchor="middle" font-family="'Liberation Serif','Times New Roman',serif" font-size="19" font-weight="bold" font-style="normal" fill="#000">4</text>
<text transform="translate(659 1496.6) scale(0.72 1)" text-anchor="middle" font-family="'Liberation Serif','Times New Roman',serif" font-size="19" font-weight="bold" font-style="normal" fill="#000">5</text>
<rect x="64.6" y="842.8" width="18.3" height="11" fill="#000"/>
<rect x="67.6" y="845.9" width="12.3" height="4.8" fill="#FF4040"/>
<text x="93.3" y="855.3" font-family="'Liberation Serif','Times New Roman',serif" font-size="21" font-weight="normal" font-style="normal" fill="#000" textLength="100.1" lengthAdjust="spacingAndGlyphs">Untreated control</text>
<rect x="64.6" y="875.45" width="18.3" height="11" fill="#000"/>
<rect x="67.6" y="878.55" width="12.3" height="4.8" fill="#40F040"/>
<text x="93.3" y="887.95" font-family="'Liberation Serif','Times New Roman',serif" font-size="21" font-weight="normal" font-style="normal" fill="#000" textLength="17.4" lengthAdjust="spacingAndGlyphs">HC</text>
<rect x="64.6" y="908.1" width="18.3" height="11" fill="#000"/>
<rect x="67.6" y="911.2" width="12.3" height="4.8" fill="#40F8F8"/>
<text x="93.3" y="920.6" font-family="'Liberation Serif','Times New Roman',serif" font-size="21" font-weight="normal" font-style="normal" fill="#000" textLength="20.6" lengthAdjust="spacingAndGlyphs">AM</text>
<rect x="64.6" y="940.75" width="18.3" height="11" fill="#000"/>
<rect x="67.6" y="943.85" width="12.3" height="4.8" fill="#4040FF"/>
<text x="93.3" y="953.25" font-family="'Liberation Serif','Times New Roman',serif" font-size="21" font-weight="normal" font-style="normal" fill="#000" textLength="54.7" lengthAdjust="spacingAndGlyphs">AM + HC</text>
<rect x="64.6" y="973.4" width="18.3" height="11" fill="#000"/>
<rect x="67.6" y="976.5" width="12.3" height="4.8" fill="#FFD4A0"/>
<text x="93.3" y="985.9" font-family="'Liberation Serif','Times New Roman',serif" font-size="21" font-weight="normal" font-style="normal" fill="#000" textLength="21.4" lengthAdjust="spacingAndGlyphs">ICP</text>
<text x="280.3" y="794.7" font-family="'Liberation Serif','Times New Roman',serif" font-size="27" font-weight="bold" font-style="normal" fill="#000" textLength="204.1" lengthAdjust="spacingAndGlyphs">Plant visual quality (2024)</text>
<text x="299.6" y="1533.8" font-family="'Liberation Serif','Times New Roman',serif" font-size="26" font-weight="bold" font-style="normal" fill="#000" textLength="165.7" lengthAdjust="spacingAndGlyphs">Week after treatment</text>
<text transform="translate(18.7 1407.5) rotate(-90) scale(1 0.92)" font-family="'Liberation Serif','Times New Roman',serif" font-size="21" font-weight="bold" textLength="525.7" lengthAdjust="spacingAndGlyphs">Treated potato plant visual quality (1-10 scale)</text>
<text transform="translate(64.9 1080.7) scale(0.68 1)" text-anchor="middle" font-family="'Liberation Serif','Times New Roman',serif" font-size="21.7" font-weight="bold" font-style="normal" fill="#000">A</text>
<text transform="translate(83.7 1080.7) scale(0.68 1)" text-anchor="middle" font-family="'Liberation Serif','Times New Roman',serif" font-size="21.7" font-weight="bold" font-style="normal" fill="#000">A</text>
<text transform="translate(104.5 1080.7) scale(0.68 1)" text-anchor="middle" font-family="'Liberation Serif','Times New Roman',serif" font-size="21.7" font-weight="bold" font-style="normal" fill="#000">A</text>
<text transform="translate(126.3 1080.7) scale(0.68 1)" text-anchor="middle" font-family="'Liberation Serif','Times New Roman',serif" font-size="21.7" font-weight="bold" font-style="normal" fill="#000">A</text>
<text transform="translate(141.1 1080.7) scale(0.68 1)" text-anchor="middle" font-family="'Liberation Serif','Times New Roman',serif" font-size="21.7" font-weight="bold" font-style="normal" fill="#000">A</text>
<text transform="translate(177.2 1205.7) scale(0.66 1)" text-anchor="middle" font-family="'Liberation Sans',Arial,sans-serif" font-size="22.5" font-weight="bold" font-style="normal" fill="#000">B</text>
<text transform="translate(195.6 1053.4) scale(0.68 1)" text-anchor="middle" font-family="'Liberation Serif','Times New Roman',serif" font-size="21.7" font-weight="bold" font-style="normal" fill="#000">A</text>
<text transform="translate(214.2 1053.4) scale(0.68 1)" text-anchor="middle" font-family="'Liberation Serif','Times New Roman',serif" font-size="21.7" font-weight="bold" font-style="normal" fill="#000">A</text>
<text transform="translate(235.2 1053.4) scale(0.68 1)" text-anchor="middle" font-family="'Liberation Serif','Times New Roman',serif" font-size="21.7" font-weight="bold" font-style="normal" fill="#000">A</text>
<text transform="translate(253.8 1053.4) scale(0.68 1)" text-anchor="middle" font-family="'Liberation Serif','Times New Roman',serif" font-size="21.7" font-weight="bold" font-style="normal" fill="#000">A</text>
<text transform="translate(286.6 1234) scale(0.68 1)" text-anchor="middle" font-family="'Liberation Serif','Times New Roman',serif" font-size="21.7" font-weight="bold" font-style="normal" fill="#000">B</text>
<text transform="translate(307 1051) scale(0.68 1)" text-anchor="middle" font-family="'Liberation Serif','Times New Roman',serif" font-size="21.7" font-weight="bold" font-style="normal" fill="#000">A</text>
<text transform="translate(325 1051) scale(0.68 1)" text-anchor="middle" font-family="'Liberation Serif','Times New Roman',serif" font-size="21.7" font-weight="bold" font-style="normal" fill="#000">A</text>
<text transform="translate(346.6 1051) scale(0.68 1)" text-anchor="middle" font-family="'Liberation Serif','Times New Roman',serif" font-size="21.7" font-weight="bold" font-style="normal" fill="#000">A</text>
<text transform="translate(367.2 1051) scale(0.68 1)" text-anchor="middle" font-family="'Liberation Serif','Times New Roman',serif" font-size="21.7" font-weight="bold" font-style="normal" fill="#000">A</text>
<text transform="translate(397.6 1311.2) scale(0.68 1)" text-anchor="middle" font-family="'Liberation Serif','Times New Roman',serif" font-size="21.7" font-weight="bold" font-style="normal" fill="#000">B</text>
<text transform="translate(415.6 1003.5) scale(0.68 1)" text-anchor="middle" font-family="'Liberation Serif','Times New Roman',serif" font-size="21.7" font-weight="bold" font-style="normal" fill="#000">A</text>
<text transform="translate(437.1 1003.5) scale(0.68 1)" text-anchor="middle" font-family="'Liberation Serif','Times New Roman',serif" font-size="21.7" font-weight="bold" font-style="normal" fill="#000">A</text>
<text transform="translate(455.7 1003.5) scale(0.68 1)" text-anchor="middle" font-family="'Liberation Serif','Times New Roman',serif" font-size="21.7" font-weight="bold" font-style="normal" fill="#000">A</text>
<text transform="translate(476.8 1003.5) scale(0.68 1)" text-anchor="middle" font-family="'Liberation Serif','Times New Roman',serif" font-size="21.7" font-weight="bold" font-style="normal" fill="#000">A</text>
<text transform="translate(511 1336.5) scale(0.68 1)" text-anchor="middle" font-family="'Liberation Serif','Times New Roman',serif" font-size="21.7" font-weight="bold" font-style="normal" fill="#000">C</text>
<text transform="translate(529.5 1007.2) scale(0.68 1)" text-anchor="middle" font-family="'Liberation Serif','Times New Roman',serif" font-size="21.7" font-weight="bold" font-style="normal" fill="#000">A</text>
<text transform="translate(547.3 1007.2) scale(0.68 1)" text-anchor="middle" font-family="'Liberation Serif','Times New Roman',serif" font-size="21.7" font-weight="bold" font-style="normal" fill="#000">A</text>
<text transform="translate(564.9 1007.2) scale(0.68 1)" text-anchor="middle" font-family="'Liberation Serif','Times New Roman',serif" font-size="21.7" font-weight="bold" font-style="normal" fill="#000">A</text>
<text transform="translate(587.2 1078.2) scale(0.68 1)" text-anchor="middle" font-family="'Liberation Serif','Times New Roman',serif" font-size="21.7" font-weight="bold" font-style="normal" fill="#000">B</text>
<text transform="translate(620 1415) scale(0.68 1)" text-anchor="middle" font-family="'Liberation Serif','Times New Roman',serif" font-size="21.7" font-weight="bold" font-style="normal" fill="#000">C</text>
<text transform="translate(640.9 1013.4) scale(0.68 1)" text-anchor="middle" font-family="'Liberation Serif','Times New Roman',serif" font-size="21.7" font-weight="bold" font-style="normal" fill="#000">A</text>
<text transform="translate(661.2 1013.4) scale(0.68 1)" text-anchor="middle" font-family="'Liberation Serif','Times New Roman',serif" font-size="21.7" font-weight="bold" font-style="normal" fill="#000">A</text>
<text transform="translate(678.8 1013.4) scale(0.68 1)" text-anchor="middle" font-family="'Liberation Serif','Times New Roman',serif" font-size="21.7" font-weight="bold" font-style="normal" fill="#000">A</text>
<text transform="translate(700.3 1075.3) scale(0.68 1)" text-anchor="middle" font-family="'Liberation Serif','Times New Roman',serif" font-size="21.7" font-weight="bold" font-style="normal" fill="#000">B</text>
<rect x="844.1" y="793.5" width="3.4" height="586.8" fill="#000"/>
<rect x="836" y="1365" width="674.8" height="3.6" fill="#000"/>
<rect x="836" y="1365.1" width="9.8" height="3" fill="#000"/>
<rect x="836" y="1250.7" width="9.8" height="3" fill="#000"/>
<rect x="836" y="1136.3" width="9.8" height="3" fill="#000"/>
<rect x="836" y="1021.9" width="9.8" height="3" fill="#000"/>
<rect x="836" y="907.5" width="9.8" height="3" fill="#000"/>
<rect x="836" y="793.1" width="9.8" height="3" fill="#000"/>
<rect x="844.2" y="1366.8" width="3.2" height="12.7" fill="#000"/>
<rect x="855.38" y="1366.8" width="2.6" height="6.8" fill="#000"/>
<rect x="866.27" y="1366.8" width="2.6" height="6.8" fill="#000"/>
<rect x="877.15" y="1366.8" width="2.6" height="6.8" fill="#000"/>
<rect x="888.04" y="1366.8" width="2.6" height="6.8" fill="#000"/>
<rect x="898.92" y="1366.8" width="2.6" height="6.8" fill="#000"/>
<rect x="909.8" y="1366.8" width="2.6" height="6.8" fill="#000"/>
<rect x="920.39" y="1366.8" width="3.2" height="12.7" fill="#000"/>
<rect x="931.57" y="1366.8" width="2.6" height="6.8" fill="#000"/>
<rect x="942.46" y="1366.8" width="2.6" height="6.8" fill="#000"/>
<rect x="953.34" y="1366.8" width="2.6" height="6.8" fill="#000"/>
<rect x="964.22" y="1366.8" width="2.6" height="6.8" fill="#000"/>
<rect x="975.11" y="1366.8" width="2.6" height="6.8" fill="#000"/>
<rect x="985.99" y="1366.8" width="2.6" height="6.8" fill="#000"/>
<rect x="996.58" y="1366.8" width="3.2" height="12.7" fill="#000"/>
<rect x="1007.76" y="1366.8" width="2.6" height="6.8" fill="#000"/>
<rect x="1018.64" y="1366.8" width="2.6" height="6.8" fill="#000"/>
<rect x="1029.53" y="1366.8" width="2.6" height="6.8" fill="#000"/>
<rect x="1040.41" y="1366.8" width="2.6" height="6.8" fill="#000"/>
<rect x="1051.3" y="1366.8" width="2.6" height="6.8" fill="#000"/>
<rect x="1062.18" y="1366.8" width="2.6" height="6.8" fill="#000"/>
<rect x="1072.76" y="1366.8" width="3.2" height="12.7" fill="#000"/>
<rect x="1083.95" y="1366.8" width="2.6" height="6.8" fill="#000"/>
<rect x="1094.83" y="1366.8" width="2.6" height="6.8" fill="#000"/>
<rect x="1105.72" y="1366.8" width="2.6" height="6.8" fill="#000"/>
<rect x="1116.6" y="1366.8" width="2.6" height="6.8" fill="#000"/>
<rect x="1127.48" y="1366.8" width="2.6" height="6.8" fill="#000"/>
<rect x="1138.37" y="1366.8" width="2.6" height="6.8" fill="#000"/>
<rect x="1148.95" y="1366.8" width="3.2" height="12.7" fill="#000"/>
<rect x="1160.14" y="1366.8" width="2.6" height="6.8" fill="#000"/>
<rect x="1171.02" y="1366.8" width="2.6" height="6.8" fill="#000"/>
<rect x="1181.9" y="1366.8" width="2.6" height="6.8" fill="#000"/>
<rect x="1192.79" y="1366.8" width="2.6" height="6.8" fill="#000"/>
<rect x="1203.67" y="1366.8" width="2.6" height="6.8" fill="#000"/>
<rect x="1214.56" y="1366.8" width="2.6" height="6.8" fill="#000"/>
<rect x="1225.14" y="1366.8" width="3.2" height="12.7" fill="#000"/>
<rect x="1236.32" y="1366.8" width="2.6" height="6.8" fill="#000"/>
<rect x="1247.21" y="1366.8" width="2.6" height="6.8" fill="#000"/>
<rect x="1258.09" y="1366.8" width="2.6" height="6.8" fill="#000"/>
<rect x="1268.98" y="1366.8" width="2.6" height="6.8" fill="#000"/>
<rect x="1279.86" y="1366.8" width="2.6" height="6.8" fill="#000"/>
<rect x="1290.74" y="1366.8" width="2.6" height="6.8" fill="#000"/>
<rect x="1301.33" y="1366.8" width="3.2" height="12.7" fill="#000"/>
<rect x="1312.51" y="1366.8" width="2.6" height="6.8" fill="#000"/>
<rect x="1323.4" y="1366.8" width="2.6" height="6.8" fill="#000"/>
<rect x="1334.28" y="1366.8" width="2.6" height="6.8" fill="#000"/>
<rect x="1345.16" y="1366.8" width="2.6" height="6.8" fill="#000"/>
<rect x="1356.05" y="1366.8" width="2.6" height="6.8" fill="#000"/>
<rect x="1366.93" y="1366.8" width="2.6" height="6.8" fill="#000"/>
<rect x="1377.52" y="1366.8" width="3.2" height="12.7" fill="#000"/>
<rect x="1388.7" y="1366.8" width="2.6" height="6.8" fill="#000"/>
<rect x="1399.58" y="1366.8" width="2.6" height="6.8" fill="#000"/>
<rect x="1410.47" y="1366.8" width="2.6" height="6.8" fill="#000"/>
<rect x="1421.35" y="1366.8" width="2.6" height="6.8" fill="#000"/>
<rect x="1432.24" y="1366.8" width="2.6" height="6.8" fill="#000"/>
<rect x="1443.12" y="1366.8" width="2.6" height="6.8" fill="#000"/>
<rect x="1453.7" y="1366.8" width="3.2" height="12.7" fill="#000"/>
<rect x="1464.89" y="1366.8" width="2.6" height="6.8" fill="#000"/>
<rect x="1475.77" y="1366.8" width="2.6" height="6.8" fill="#000"/>
<rect x="1486.66" y="1366.8" width="2.6" height="6.8" fill="#000"/>
<rect x="1497.54" y="1366.8" width="2.6" height="6.8" fill="#000"/>
<rect x="1508.42" y="1366.8" width="2.6" height="6.8" fill="#000"/>
<text x="824.9" y="1375.2" font-family="'Liberation Serif','Times New Roman',serif" font-size="25" font-weight="bold" font-style="normal" fill="#000" textLength="8.3" lengthAdjust="spacingAndGlyphs">0</text>
<text x="816.6" y="1260.8" font-family="'Liberation Serif','Times New Roman',serif" font-size="25" font-weight="bold" font-style="normal" fill="#000" textLength="16.6" lengthAdjust="spacingAndGlyphs">20</text>
<text x="816.6" y="1146.4" font-family="'Liberation Serif','Times New Roman',serif" font-size="25" font-weight="bold" font-style="normal" fill="#000" textLength="16.6" lengthAdjust="spacingAndGlyphs">40</text>
<text x="816.6" y="1032" font-family="'Liberation Serif','Times New Roman',serif" font-size="25" font-weight="bold" font-style="normal" fill="#000" textLength="16.6" lengthAdjust="spacingAndGlyphs">60</text>
<text x="816.6" y="917.6" font-family="'Liberation Serif','Times New Roman',serif" font-size="25" font-weight="bold" font-style="normal" fill="#000" textLength="16.6" lengthAdjust="spacingAndGlyphs">80</text>
<text x="808.3" y="803.2" font-family="'Liberation Serif','Times New Roman',serif" font-size="25" font-weight="bold" font-style="normal" fill="#000" textLength="24.9" lengthAdjust="spacingAndGlyphs">100</text>
<polyline points="845.8,1188.67 856.68,1070.11 867.57,948.7 878.45,972.07 889.34,918.49 900.22,904.81 911.1,921.91 921.99,946.42 932.87,882.01 943.76,854.08 954.64,897.97 965.52,904.24 976.41,878.02 987.29,981.19 998.18,1084.93 1009.06,990.31 1019.94,1018.81 1030.83,1043.32 1041.71,1055.86 1052.6,1102.03 1063.48,1006.27 1074.36,1023.94 1085.25,1009.69 1096.13,1037.62 1107.02,1011.4 1117.9,991.45 1128.78,1065.55 1139.67,1119.13 1150.55,1161.31 1161.44,1121.98 1172.32,1050.73 1183.2,1069.54 1194.09,1181.83 1204.97,1004.56 1215.86,968.65 1226.74,1033.63 1237.62,1000 1248.51,964.09 1259.39,974.92 1270.28,995.44 1281.16,1007.98 1292.04,998.86 1302.93,1025.65 1313.81,1003.99 1324.7,883.15 1335.58,929.32 1346.46,909.94 1357.35,960.1 1368.23,976.06 1379.12,931.6 1390,882.58 1400.88,902.53 1411.77,924.19 1422.65,924.19 1433.54,963.52 1444.42,953.26 1455.3,992.02 1466.19,986.89 1477.07,968.08 1487.96,1047.88 1498.84,1049.02 1509.72,1026.79" fill="none" stroke="#4A4AFF" stroke-width="1.5"/>
<rect x="840.55" y="1181.47" width="10.5" height="14.4" fill="#3C3CFF"/>
<rect x="851.43" y="1062.91" width="10.5" height="14.4" fill="#3C3CFF"/>
<rect x="862.32" y="941.5" width="10.5" height="14.4" fill="#3C3CFF"/>
<rect x="873.2" y="964.87" width="10.5" height="14.4" fill="#3C3CFF"/>
<rect x="884.09" y="911.29" width="10.5" height="14.4" fill="#3C3CFF"/>
<rect x="894.97" y="897.61" width="10.5" height="14.4" fill="#3C3CFF"/>
<rect x="905.85" y="914.71" width="10.5" height="14.4" fill="#3C3CFF"/>
<rect x="916.74" y="939.22" width="10.5" height="14.4" fill="#3C3CFF"/>
<rect x="927.62" y="874.81" width="10.5" height="14.4" fill="#3C3CFF"/>
<rect x="938.51" y="846.88" width="10.5" height="14.4" fill="#3C3CFF"/>
<rect x="949.39" y="890.77" width="10.5" height="14.4" fill="#3C3CFF"/>
<rect x="960.27" y="897.04" width="10.5" height="14.4" fill="#3C3CFF"/>
<rect x="971.16" y="870.82" width="10.5" height="14.4" fill="#3C3CFF"/>
<rect x="982.04" y="973.99" width="10.5" height="14.4" fill="#3C3CFF"/>
<rect x="992.93" y="1077.73" width="10.5" height="14.4" fill="#3C3CFF"/>
<rect x="1003.81" y="983.11" width="10.5" height="14.4" fill="#3C3CFF"/>
<rect x="1014.69" y="1011.61" width="10.5" height="14.4" fill="#3C3CFF"/>
<rect x="1025.58" y="1036.12" width="10.5" height="14.4" fill="#3C3CFF"/>
<rect x="1036.46" y="1048.66" width="10.5" height="14.4" fill="#3C3CFF"/>
<rect x="1047.35" y="1094.83" width="10.5" height="14.4" fill="#3C3CFF"/>
<rect x="1058.23" y="999.07" width="10.5" height="14.4" fill="#3C3CFF"/>
<rect x="1069.11" y="1016.74" width="10.5" height="14.4" fill="#3C3CFF"/>
<rect x="1080" y="1002.49" width="10.5" height="14.4" fill="#3C3CFF"/>
<rect x="1090.88" y="1030.42" width="10.5" height="14.4" fill="#3C3CFF"/>
<rect x="1101.77" y="1004.2" width="10.5" height="14.4" fill="#3C3CFF"/>
<rect x="1112.65" y="984.25" width="10.5" height="14.4" fill="#3C3CFF"/>
<rect x="1123.53" y="1058.35" width="10.5" height="14.4" fill="#3C3CFF"/>
<rect x="1134.42" y="1111.93" width="10.5" height="14.4" fill="#3C3CFF"/>
<rect x="1145.3" y="1154.11" width="10.5" height="14.4" fill="#3C3CFF"/>
<rect x="1156.19" y="1114.78" width="10.5" height="14.4" fill="#3C3CFF"/>
<rect x="1167.07" y="1043.53" width="10.5" height="14.4" fill="#3C3CFF"/>
<rect x="1177.95" y="1062.34" width="10.5" height="14.4" fill="#3C3CFF"/>
<rect x="1188.84" y="1174.63" width="10.5" height="14.4" fill="#3C3CFF"/>
<rect x="1199.72" y="997.36" width="10.5" height="14.4" fill="#3C3CFF"/>
<rect x="1210.61" y="961.45" width="10.5" height="14.4" fill="#3C3CFF"/>
<rect x="1221.49" y="1026.43" width="10.5" height="14.4" fill="#3C3CFF"/>
<rect x="1232.37" y="992.8" width="10.5" height="14.4" fill="#3C3CFF"/>
<rect x="1243.26" y="956.89" width="10.5" height="14.4" fill="#3C3CFF"/>
<rect x="1254.14" y="967.72" width="10.5" height="14.4" fill="#3C3CFF"/>
<rect x="1265.03" y="988.24" width="10.5" height="14.4" fill="#3C3CFF"/>
<rect x="1275.91" y="1000.78" width="10.5" height="14.4" fill="#3C3CFF"/>
<rect x="1286.79" y="991.66" width="10.5" height="14.4" fill="#3C3CFF"/>
<rect x="1297.68" y="1018.45" width="10.5" height="14.4" fill="#3C3CFF"/>
<rect x="1308.56" y="996.79" width="10.5" height="14.4" fill="#3C3CFF"/>
<rect x="1319.45" y="875.95" width="10.5" height="14.4" fill="#3C3CFF"/>
<rect x="1330.33" y="922.12" width="10.5" height="14.4" fill="#3C3CFF"/>
<rect x="1341.21" y="902.74" width="10.5" height="14.4" fill="#3C3CFF"/>
<rect x="1352.1" y="952.9" width="10.5" height="14.4" fill="#3C3CFF"/>
<rect x="1362.98" y="968.86" width="10.5" height="14.4" fill="#3C3CFF"/>
<rect x="1373.87" y="924.4" width="10.5" height="14.4" fill="#3C3CFF"/>
<rect x="1384.75" y="875.38" width="10.5" height="14.4" fill="#3C3CFF"/>
<rect x="1395.63" y="895.33" width="10.5" height="14.4" fill="#3C3CFF"/>
<rect x="1406.52" y="916.99" width="10.5" height="14.4" fill="#3C3CFF"/>
<rect x="1417.4" y="916.99" width="10.5" height="14.4" fill="#3C3CFF"/>
<rect x="1428.29" y="956.32" width="10.5" height="14.4" fill="#3C3CFF"/>
<rect x="1439.17" y="946.06" width="10.5" height="14.4" fill="#3C3CFF"/>
<rect x="1450.05" y="984.82" width="10.5" height="14.4" fill="#3C3CFF"/>
<rect x="1460.94" y="979.69" width="10.5" height="14.4" fill="#3C3CFF"/>
<rect x="1471.82" y="960.88" width="10.5" height="14.4" fill="#3C3CFF"/>
<rect x="1482.71" y="1040.68" width="10.5" height="14.4" fill="#3C3CFF"/>
<rect x="1493.59" y="1041.82" width="10.5" height="14.4" fill="#3C3CFF"/>
<rect x="1504.47" y="1019.59" width="10.5" height="14.4" fill="#3C3CFF"/>
<polyline points="845.8,1210.9 856.68,1243.39 867.57,1250.8 878.45,1256.5 889.34,1258.78 900.22,1255.36 911.1,1256.5 921.99,1262.77 932.87,1269.04 943.76,1285.57 954.64,1287.28 965.52,1288.99 976.41,1286.71 987.29,1265.62 998.18,1225.72 1009.06,1238.26 1019.94,1245.1 1030.83,1238.83 1041.71,1241.11 1052.6,1222.87 1063.48,1230.28 1074.36,1242.82 1085.25,1242.82 1096.13,1235.41 1107.02,1243.39 1117.9,1255.93 1128.78,1232.56 1139.67,1210.9 1150.55,1194.94 1161.44,1208.62 1172.32,1229.71 1183.2,1230.85 1194.09,1185.82 1204.97,1225.15 1215.86,1233.7 1226.74,1226.86 1237.62,1231.99 1248.51,1240.54 1259.39,1235.41 1270.28,1235.98 1281.16,1238.83 1292.04,1237.69 1302.93,1233.13 1313.81,1228 1324.7,1246.81 1335.58,1256.5 1346.46,1248.52 1357.35,1261.06 1368.23,1264.48 1379.12,1253.65 1390,1239.97 1400.88,1243.96 1411.77,1252.51 1422.65,1249.09 1433.54,1205.77 1444.42,1231.99 1455.3,1233.7 1466.19,1226.86 1477.07,1224.01 1487.96,1212.61 1498.84,1203.49 1509.72,1210.33" fill="none" stroke="#FF4A4A" stroke-width="1.5"/>
<ellipse cx="845.8" cy="1210.9" rx="5.3" ry="7.4" fill="#FF2A2A" fill-opacity="0.9"/>
<ellipse cx="856.68" cy="1243.39" rx="5.3" ry="7.4" fill="#FF2A2A" fill-opacity="0.9"/>
<ellipse cx="867.57" cy="1250.8" rx="5.3" ry="7.4" fill="#FF2A2A" fill-opacity="0.9"/>
<ellipse cx="878.45" cy="1256.5" rx="5.3" ry="7.4" fill="#FF2A2A" fill-opacity="0.9"/>
<ellipse cx="889.34" cy="1258.78" rx="5.3" ry="7.4" fill="#FF2A2A" fill-opacity="0.9"/>
<ellipse cx="900.22" cy="1255.36" rx="5.3" ry="7.4" fill="#FF2A2A" fill-opacity="0.9"/>
<ellipse cx="911.1" cy="1256.5" rx="5.3" ry="7.4" fill="#FF2A2A" fill-opacity="0.9"/>
<ellipse cx="921.99" cy="1262.77" rx="5.3" ry="7.4" fill="#FF2A2A" fill-opacity="0.9"/>
<ellipse cx="932.87" cy="1269.04" rx="5.3" ry="7.4" fill="#FF2A2A" fill-opacity="0.9"/>
<ellipse cx="943.76" cy="1285.57" rx="5.3" ry="7.4" fill="#FF2A2A" fill-opacity="0.9"/>
<ellipse cx="954.64" cy="1287.28" rx="5.3" ry="7.4" fill="#FF2A2A" fill-opacity="0.9"/>
<ellipse cx="965.52" cy="1288.99" rx="5.3" ry="7.4" fill="#FF2A2A" fill-opacity="0.9"/>
<ellipse cx="976.41" cy="1286.71" rx="5.3" ry="7.4" fill="#FF2A2A" fill-opacity="0.9"/>
<ellipse cx="987.29" cy="1265.62" rx="5.3" ry="7.4" fill="#FF2A2A" fill-opacity="0.9"/>
<ellipse cx="998.18" cy="1225.72" rx="5.3" ry="7.4" fill="#FF2A2A" fill-opacity="0.9"/>
<ellipse cx="1009.06" cy="1238.26" rx="5.3" ry="7.4" fill="#FF2A2A" fill-opacity="0.9"/>
<ellipse cx="1019.94" cy="1245.1" rx="5.3" ry="7.4" fill="#FF2A2A" fill-opacity="0.9"/>
<ellipse cx="1030.83" cy="1238.83" rx="5.3" ry="7.4" fill="#FF2A2A" fill-opacity="0.9"/>
<ellipse cx="1041.71" cy="1241.11" rx="5.3" ry="7.4" fill="#FF2A2A" fill-opacity="0.9"/>
<ellipse cx="1052.6" cy="1222.87" rx="5.3" ry="7.4" fill="#FF2A2A" fill-opacity="0.9"/>
<ellipse cx="1063.48" cy="1230.28" rx="5.3" ry="7.4" fill="#FF2A2A" fill-opacity="0.9"/>
<ellipse cx="1074.36" cy="1242.82" rx="5.3" ry="7.4" fill="#FF2A2A" fill-opacity="0.9"/>
<ellipse cx="1085.25" cy="1242.82" rx="5.3" ry="7.4" fill="#FF2A2A" fill-opacity="0.9"/>
<ellipse cx="1096.13" cy="1235.41" rx="5.3" ry="7.4" fill="#FF2A2A" fill-opacity="0.9"/>
<ellipse cx="1107.02" cy="1243.39" rx="5.3" ry="7.4" fill="#FF2A2A" fill-opacity="0.9"/>
<ellipse cx="1117.9" cy="1255.93" rx="5.3" ry="7.4" fill="#FF2A2A" fill-opacity="0.9"/>
<ellipse cx="1128.78" cy="1232.56" rx="5.3" ry="7.4" fill="#FF2A2A" fill-opacity="0.9"/>
<ellipse cx="1139.67" cy="1210.9" rx="5.3" ry="7.4" fill="#FF2A2A" fill-opacity="0.9"/>
<ellipse cx="1150.55" cy="1194.94" rx="5.3" ry="7.4" fill="#FF2A2A" fill-opacity="0.9"/>
<ellipse cx="1161.44" cy="1208.62" rx="5.3" ry="7.4" fill="#FF2A2A" fill-opacity="0.9"/>
<ellipse cx="1172.32" cy="1229.71" rx="5.3" ry="7.4" fill="#FF2A2A" fill-opacity="0.9"/>
<ellipse cx="1183.2" cy="1230.85" rx="5.3" ry="7.4" fill="#FF2A2A" fill-opacity="0.9"/>
<ellipse cx="1194.09" cy="1185.82" rx="5.3" ry="7.4" fill="#FF2A2A" fill-opacity="0.9"/>
<ellipse cx="1204.97" cy="1225.15" rx="5.3" ry="7.4" fill="#FF2A2A" fill-opacity="0.9"/>
<ellipse cx="1215.86" cy="1233.7" rx="5.3" ry="7.4" fill="#FF2A2A" fill-opacity="0.9"/>
<ellipse cx="1226.74" cy="1226.86" rx="5.3" ry="7.4" fill="#FF2A2A" fill-opacity="0.9"/>
<ellipse cx="1237.62" cy="1231.99" rx="5.3" ry="7.4" fill="#FF2A2A" fill-opacity="0.9"/>
<ellipse cx="1248.51" cy="1240.54" rx="5.3" ry="7.4" fill="#FF2A2A" fill-opacity="0.9"/>
<ellipse cx="1259.39" cy="1235.41" rx="5.3" ry="7.4" fill="#FF2A2A" fill-opacity="0.9"/>
<ellipse cx="1270.28" cy="1235.98" rx="5.3" ry="7.4" fill="#FF2A2A" fill-opacity="0.9"/>
<ellipse cx="1281.16" cy="1238.83" rx="5.3" ry="7.4" fill="#FF2A2A" fill-opacity="0.9"/>
<ellipse cx="1292.04" cy="1237.69" rx="5.3" ry="7.4" fill="#FF2A2A" fill-opacity="0.9"/>
<ellipse cx="1302.93" cy="1233.13" rx="5.3" ry="7.4" fill="#FF2A2A" fill-opacity="0.9"/>
<ellipse cx="1313.81" cy="1228" rx="5.3" ry="7.4" fill="#FF2A2A" fill-opacity="0.9"/>
<ellipse cx="1324.7" cy="1246.81" rx="5.3" ry="7.4" fill="#FF2A2A" fill-opacity="0.9"/>
<ellipse cx="1335.58" cy="1256.5" rx="5.3" ry="7.4" fill="#FF2A2A" fill-opacity="0.9"/>
<ellipse cx="1346.46" cy="1248.52" rx="5.3" ry="7.4" fill="#FF2A2A" fill-opacity="0.9"/>
<ellipse cx="1357.35" cy="1261.06" rx="5.3" ry="7.4" fill="#FF2A2A" fill-opacity="0.9"/>
<ellipse cx="1368.23" cy="1264.48" rx="5.3" ry="7.4" fill="#FF2A2A" fill-opacity="0.9"/>
<ellipse cx="1379.12" cy="1253.65" rx="5.3" ry="7.4" fill="#FF2A2A" fill-opacity="0.9"/>
<ellipse cx="1390" cy="1239.97" rx="5.3" ry="7.4" fill="#FF2A2A" fill-opacity="0.9"/>
<ellipse cx="1400.88" cy="1243.96" rx="5.3" ry="7.4" fill="#FF2A2A" fill-opacity="0.9"/>
<ellipse cx="1411.77" cy="1252.51" rx="5.3" ry="7.4" fill="#FF2A2A" fill-opacity="0.9"/>
<ellipse cx="1422.65" cy="1249.09" rx="5.3" ry="7.4" fill="#FF2A2A" fill-opacity="0.9"/>
<ellipse cx="1433.54" cy="1205.77" rx="5.3" ry="7.4" fill="#FF2A2A" fill-opacity="0.9"/>
<ellipse cx="1444.42" cy="1231.99" rx="5.3" ry="7.4" fill="#FF2A2A" fill-opacity="0.9"/>
<ellipse cx="1455.3" cy="1233.7" rx="5.3" ry="7.4" fill="#FF2A2A" fill-opacity="0.9"/>
<ellipse cx="1466.19" cy="1226.86" rx="5.3" ry="7.4" fill="#FF2A2A" fill-opacity="0.9"/>
<ellipse cx="1477.07" cy="1224.01" rx="5.3" ry="7.4" fill="#FF2A2A" fill-opacity="0.9"/>
<ellipse cx="1487.96" cy="1212.61" rx="5.3" ry="7.4" fill="#FF2A2A" fill-opacity="0.9"/>
<ellipse cx="1498.84" cy="1203.49" rx="5.3" ry="7.4" fill="#FF2A2A" fill-opacity="0.9"/>
<ellipse cx="1509.72" cy="1210.33" rx="5.3" ry="7.4" fill="#FF2A2A" fill-opacity="0.9"/>
<rect x="1310" y="802.4" width="23" height="1.2" fill="#FF6060"/>
<ellipse cx="1321.4" cy="803" rx="5.3" ry="7.8" fill="#FF3232"/>
<rect x="1312.2" y="841.3" width="22.2" height="1.4" fill="#5A5AFF"/>
<rect x="1318.4" y="834" width="10.6" height="16" fill="#3C3CFF"/>
<text x="1344.4" y="809.9" font-family="'Liberation Serif','Times New Roman',serif" font-size="23" font-weight="normal" font-style="normal" fill="#222" textLength="172.2" lengthAdjust="spacingAndGlyphs">HC Air temperature [°C]</text>
<text x="1346.7" y="848.9" font-family="'Liberation Serif','Times New Roman',serif" font-size="23" font-weight="normal" font-style="normal" fill="#222" textLength="182.9" lengthAdjust="spacingAndGlyphs">HC Relative humidity [%]</text>
<text transform="translate(849.8 1401.7) scale(0.72 1) rotate(-45)" text-anchor="end" font-family="'Liberation Serif','Times New Roman',serif" font-size="24" font-weight="bold">18-Apr-2024</text>
<text transform="translate(925.99 1401.7) scale(0.72 1) rotate(-45)" text-anchor="end" font-family="'Liberation Serif','Times New Roman',serif" font-size="24" font-weight="bold">25-Apr-2024</text>
<text transform="translate(1002.18 1401.7) scale(0.72 1) rotate(-45)" text-anchor="end" font-family="'Liberation Serif','Times New Roman',serif" font-size="24" font-weight="bold">2-May-2024</text>
<text transform="translate(1078.36 1401.7) scale(0.72 1) rotate(-45)" text-anchor="end" font-family="'Liberation Serif','Times New Roman',serif" font-size="24" font-weight="bold">9-May-2024</text>
<text transform="translate(1154.55 1401.7) scale(0.72 1) rotate(-45)" text-anchor="end" font-family="'Liberation Serif','Times New Roman',serif" font-size="24" font-weight="bold">16-May-2024</text>
<text transform="translate(1230.74 1401.7) scale(0.72 1) rotate(-45)" text-anchor="end" font-family="'Liberation Serif','Times New Roman',serif" font-size="24" font-weight="bold">23-May-2024</text>
<text transform="translate(1306.93 1401.7) scale(0.72 1) rotate(-45)" text-anchor="end" font-family="'Liberation Serif','Times New Roman',serif" font-size="24" font-weight="bold">30-May-2024</text>
<text transform="translate(1383.12 1401.7) scale(0.72 1) rotate(-45)" text-anchor="end" font-family="'Liberation Serif','Times New Roman',serif" font-size="24" font-weight="bold">6-Jun-2024</text>
<text transform="translate(1459.3 1401.7) scale(0.72 1) rotate(-45)" text-anchor="end" font-family="'Liberation Serif','Times New Roman',serif" font-size="24" font-weight="bold">13-Jun-2024</text>
<text x="1007.7" y="1528" font-family="'Liberation Serif','Times New Roman',serif" font-size="26" font-weight="bold" font-style="normal" fill="#000" textLength="338.2" lengthAdjust="spacingAndGlyphs">Recording period (18 Apr- 18 Jun 2024)</text>
</g>
</svg></body></html>
